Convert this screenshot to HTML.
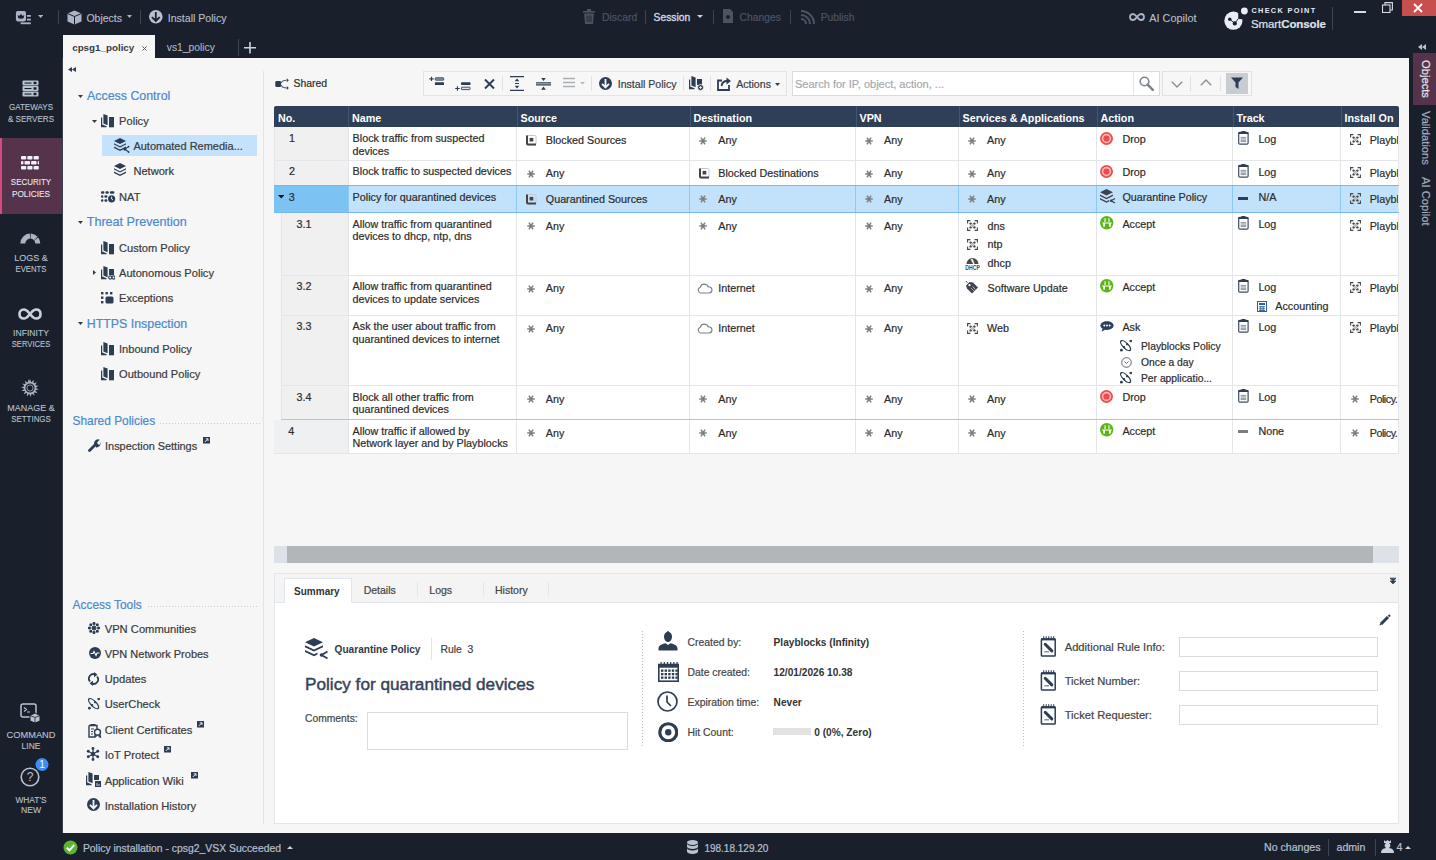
<!DOCTYPE html><html><head><meta charset="utf-8"><style>
*{margin:0;padding:0;box-sizing:border-box}
html,body{width:1436px;height:860px;overflow:hidden;background:#1a1f2c;font-family:"Liberation Sans",sans-serif}
.a{position:absolute}
.t{position:absolute;white-space:nowrap;-webkit-text-stroke:0.2px currentColor}
svg{display:block}
</style></head><body>
<svg class="a" style="left:15px;top:10px;" width="17" height="15" viewBox="0 0 17 15"><rect x="0.9" y="1.1" width="10.1" height="10.3" rx="1.8" fill="#aab4c4"/><path d="M2.6 5 L4.2 5.9 L5.95 4 L7.7 5.9 L9.3 5 L8.6 8.3 Q5.95 9.2 3.3 8.3Z" fill="#1a1f2c"/><rect x="11.9" y="5" width="3.9" height="1.8" fill="#aab4c4"/><rect x="11.9" y="8.7" width="3.9" height="1.8" fill="#aab4c4"/><rect x="5.6" y="12.4" width="10.2" height="1.8" fill="#aab4c4"/></svg>
<svg class="a" style="left:38px;top:15px;" width="5.2" height="3" viewBox="0 0 5.2 3"><path d="M0 0 L5.2 0 L2.6 3Z" fill="#aab4c4"/></svg>
<div class="a" style="left:58px;top:10px;width:1px;height:14px;background:#3d4554"></div>
<svg class="a" style="left:67px;top:10px;" width="15" height="15" viewBox="0 0 15 15"><path d="M7.5 0.5 L14.5 3.5 L14.5 11.5 L7.5 14.5 L0.5 11.5 L0.5 3.5Z" fill="#aab4c4"/><path d="M0.5 3.5 L7.5 6.5 L14.5 3.5 M7.5 6.5 L7.5 14.5" stroke="#1a1f2c" stroke-width="1" fill="none"/></svg>
<div class="t " style="left:86.4px;top:12.8px;font-size:10.5px;line-height:10.5px;color:#b6c0ce;-webkit-text-stroke:0.1px;">Objects</div>
<svg class="a" style="left:126.5px;top:15px;" width="5" height="3" viewBox="0 0 5 3"><path d="M0 0 L5 0 L2.5 3Z" fill="#aab4c4"/></svg>
<div class="a" style="left:140px;top:10px;width:1px;height:14px;background:#3d4554"></div>
<svg class="a" style="left:149px;top:10px;" width="14" height="14" viewBox="0 0 14 14"><circle cx="6.8" cy="6.8" r="6.8" fill="#b6c0ce"/><path d="M6.8 2 L6.8 11 M2.9 7.1 L6.8 11 L10.7 7.1" stroke="#1a1f2c" stroke-width="1.8" fill="none"/></svg>
<div class="t " style="left:167.7px;top:12.7px;font-size:10.6px;line-height:10.6px;color:#b6c0ce;-webkit-text-stroke:0.1px;">Install Policy</div>
<svg class="a" style="left:583px;top:9px;" width="12" height="15" viewBox="0 0 12 15"><rect x="0" y="2" width="12" height="1.6" fill="#4c5462"/><rect x="4" y="0" width="4" height="2" fill="#4c5462"/><path d="M1.2 4.5 L10.8 4.5 L10 15 L2 15Z" fill="#4c5462"/><path d="M4 6.5 L4 13 M6 6.5 L6 13 M8 6.5 L8 13" stroke="#1a1f2c" stroke-width="0.8"/></svg>
<div class="t " style="left:602.0px;top:12.9px;font-size:10.4px;line-height:10.4px;color:#4c5462;">Discard</div>
<div class="a" style="left:645px;top:10px;width:1px;height:14px;background:#3d4554"></div>
<div class="t " style="left:653.6px;top:13.0px;font-size:10.3px;line-height:10.3px;color:#d0d7e2;-webkit-text-stroke:0.35px #d0d7e2;">Session</div>
<svg class="a" style="left:697px;top:15px;" width="6" height="3" viewBox="0 0 6 3"><path d="M0 0 L6 0 L3 3Z" fill="#c9d1dd"/></svg>
<div class="a" style="left:713px;top:10px;width:1px;height:14px;background:#3d4554"></div>
<svg class="a" style="left:722.5px;top:9px;" width="10" height="14" viewBox="0 0 10 14"><path d="M0 0 L7 0 L10 3 L10 14 L0 14Z" fill="#4c5462"/><circle cx="5" cy="8" r="2" fill="#1a1f2c"/></svg>
<div class="t " style="left:739.6px;top:13.0px;font-size:10.3px;line-height:10.3px;color:#4c5462;">Changes</div>
<div class="a" style="left:790px;top:10px;width:1px;height:14px;background:#3d4554"></div>
<svg class="a" style="left:800px;top:9px;" width="16" height="16" viewBox="0 0 16 16"><path d="M1 2 A13 13 0 0 1 14 15 M1 6 A9 9 0 0 1 10 15 M1 10 A5 5 0 0 1 6 15" stroke="#4c5462" stroke-width="2" fill="none"/></svg>
<div class="t " style="left:820.7px;top:13.0px;font-size:10.3px;line-height:10.3px;color:#4c5462;">Publish</div>
<svg class="a" style="left:1129px;top:13px;" width="16" height="8" viewBox="0 0 16 8"><path d="M4 1 C1.5 1 1 3 1 4 C1 5 1.5 7 4 7 C6 7 7 5 8 4 C9 3 10 1 12 1 C14.5 1 15 3 15 4 C15 5 14.5 7 12 7 C10 7 9 5 8 4 C7 3 6 1 4 1Z" stroke="#aab4c4" stroke-width="1.8" fill="none"/></svg>
<div class="t " style="left:1149.3px;top:12.8px;font-size:10.9px;line-height:10.9px;color:#b6c0ce;-webkit-text-stroke:0.1px;">AI Copilot</div>
<svg class="a" style="left:1223px;top:7px;" width="26" height="23" viewBox="0 0 26 23"><circle cx="10.4" cy="13.7" r="9.1" fill="#e8edf5"/><path d="M15.2 0 L15.2 11.3 Q15.2 12 16 12 L21 12.2 L21 0Z" fill="#1a1f2c"/><circle cx="21.4" cy="4" r="3.4" fill="#e8edf5"/><path d="M6.8 12.3 L11.8 16.4 L15.3 11.6" stroke="#1a1f2c" stroke-width="0.9" fill="none"/><circle cx="6.8" cy="12.3" r="1.7" fill="#1a1f2c"/><circle cx="11.8" cy="16.4" r="2.1" fill="#1a1f2c"/></svg>
<div class="t " style="left:1251.4px;top:7.4px;font-size:7.3px;line-height:7.3px;color:#e8ecf0;font-weight:700;-webkit-text-stroke:0;letter-spacing:1.35px;">CHECK POINT</div>
<div class="t " style="left:1251.0px;top:19.3px;font-size:11.5px;line-height:11.5px;color:#dfe4ea;letter-spacing:-0.1px;">Smart<span style="font-weight:700">Console</span></div>
<div class="a" style="left:1332px;top:7px;width:1px;height:23px;background:#3d4554"></div>
<div class="a" style="left:1354px;top:11px;width:12px;height:2px;background:#d8dde4"></div>
<svg class="a" style="left:1382px;top:2px;" width="11" height="11" viewBox="0 0 11 11"><rect x="0.5" y="3" width="7.5" height="7.5" fill="none" stroke="#d8dde4" stroke-width="1.1"/><path d="M3 3 L3 0.6 L10.4 0.6 L10.4 8 L8 8" fill="none" stroke="#d8dde4" stroke-width="1.1"/></svg>
<div class="a" style="left:1402px;top:0px;width:34px;height:16px;background:#c74f4d"></div>
<svg class="a" style="left:1413px;top:3px;" width="10" height="10" viewBox="0 0 10 10"><path d="M1 1 L9 9 M9 1 L1 9" stroke="#fff" stroke-width="1.8"/></svg>
<div class="a" style="left:63px;top:35px;width:92px;height:30px;background:#f6f6f6"></div>
<div class="t " style="left:72.2px;top:43.0px;font-size:9.8px;line-height:9.8px;color:#3a3a3a;font-weight:700;-webkit-text-stroke:0;">cpsg1_policy</div>
<svg class="a" style="left:142px;top:46px;" width="5" height="5" viewBox="0 0 5 5"><path d="M0.5 0.5 L4.5 4.5 M4.5 0.5 L0.5 4.5" stroke="#555" stroke-width="1"/></svg>
<div class="t " style="left:166.8px;top:42.9px;font-size:10.3px;line-height:10.3px;color:#aeb7c3;-webkit-text-stroke:0.1px;">vs1_policy</div>
<div class="a" style="left:238px;top:39px;width:1px;height:17px;background:#3d4554"></div>
<svg class="a" style="left:244px;top:42px;" width="12" height="12" viewBox="0 0 12 12"><path d="M6 0 L6 11.5 M0 5.8 L12 5.8" stroke="#c9d1dd" stroke-width="1.6"/></svg>
<svg class="a" style="left:22px;top:80px;" width="17" height="17" viewBox="0 0 17 17"><rect x="0.5" y="0.5" width="16" height="5" rx="1" fill="#b9c3d0"/><rect x="2.5" y="2.5" width="7" height="1.1" fill="#1a1f2c"/><rect x="11.5" y="1.8" width="3" height="2.4" fill="#1a1f2c"/><rect x="0.5" y="6" width="16" height="5" rx="1" fill="#b9c3d0"/><rect x="2.5" y="8" width="7" height="1.1" fill="#1a1f2c"/><rect x="11.5" y="7.3" width="3" height="2.4" fill="#1a1f2c"/><rect x="0.5" y="11.5" width="16" height="5" rx="1" fill="#b9c3d0"/><rect x="2.5" y="13.5" width="7" height="1.1" fill="#1a1f2c"/><rect x="11.5" y="12.8" width="3" height="2.4" fill="#1a1f2c"/></svg>
<div class="t" style="left:0;width:62px;text-align:center;top:102.4px;font-size:9.8px;line-height:9.8px;color:#b9c3d0;-webkit-text-stroke:0.1px #b9c3d0;transform:scaleX(0.823)">GATEWAYS</div>
<div class="t" style="left:0;width:62px;text-align:center;top:113.6px;font-size:9.8px;line-height:9.8px;color:#b9c3d0;-webkit-text-stroke:0.1px #b9c3d0;transform:scaleX(0.826)">&amp; SERVERS</div>
<div class="a" style="left:0px;top:138px;width:62px;height:76px;background:#55334a"></div>
<div class="a" style="left:0px;top:138px;width:2px;height:76px;background:#d24d7f"></div>
<svg class="a" style="left:21px;top:156px;" width="18" height="14" viewBox="0 0 18 14"><rect x="0" y="0" width="5.2" height="3.6" rx="0.8" fill="#eef1f6"/><rect x="6.3" y="0" width="5.2" height="3.6" rx="0.8" fill="#eef1f6"/><rect x="12.6" y="0" width="5.2" height="3.6" rx="0.8" fill="#eef1f6"/><rect x="0" y="5" width="2.4" height="3.6" rx="0.8" fill="#eef1f6"/><rect x="3.5" y="5" width="5.5" height="3.6" rx="0.8" fill="#eef1f6"/><rect x="10.1" y="5" width="5.5" height="3.6" rx="0.8" fill="#eef1f6"/><rect x="16.7" y="5" width="1.3" height="3.6" rx="0.8" fill="#eef1f6"/><rect x="0" y="10" width="5.2" height="3.6" rx="0.8" fill="#eef1f6"/><rect x="6.3" y="10" width="5.2" height="3.6" rx="0.8" fill="#eef1f6"/><rect x="12.6" y="10" width="5.2" height="3.6" rx="0.8" fill="#eef1f6"/></svg>
<div class="t" style="left:0;width:62px;text-align:center;top:177.3px;font-size:9.8px;line-height:9.8px;color:#e6e9ef;-webkit-text-stroke:0.1px #e6e9ef;transform:scaleX(0.814)">SECURITY</div>
<div class="t" style="left:0;width:62px;text-align:center;top:188.6px;font-size:9.8px;line-height:9.8px;color:#e6e9ef;-webkit-text-stroke:0.1px #e6e9ef;transform:scaleX(0.843)">POLICIES</div>
<svg class="a" style="left:20px;top:233px;" width="21" height="11" viewBox="0 0 21 11"><path d="M2.80 10.60 A7.5 7.5 0 0 1 9.97 3.11 M10.63 3.11 A7.5 7.5 0 0 1 15.79 5.49 M16.21 5.98 A7.5 7.5 0 0 1 17.80 10.60" stroke="#aab4c3" stroke-width="5" fill="none"/></svg>
<div class="t" style="left:0;width:62px;text-align:center;top:252.7px;font-size:9.8px;line-height:9.8px;color:#b9c3d0;-webkit-text-stroke:0.1px #b9c3d0;transform:scaleX(0.913)">LOGS &amp;</div>
<div class="t" style="left:0;width:62px;text-align:center;top:263.5px;font-size:9.8px;line-height:9.8px;color:#b9c3d0;-webkit-text-stroke:0.1px #b9c3d0;transform:scaleX(0.791)">EVENTS</div>
<svg class="a" style="left:18px;top:308px;" width="24" height="12" viewBox="0 0 24 12"><path d="M6 1.5 C2.5 1.5 1.5 4 1.5 6 C1.5 8 2.5 10.5 6 10.5 C9 10.5 10.5 7.5 12 6 C13.5 4.5 15 1.5 18 1.5 C21.5 1.5 22.5 4 22.5 6 C22.5 8 21.5 10.5 18 10.5 C15 10.5 13.5 7.5 12 6 C10.5 4.5 9 1.5 6 1.5Z" stroke="#c9d1dd" stroke-width="2.6" fill="none"/></svg>
<div class="t" style="left:0;width:62px;text-align:center;top:327.5px;font-size:9.8px;line-height:9.8px;color:#b9c3d0;-webkit-text-stroke:0.1px #b9c3d0;transform:scaleX(0.877)">INFINITY</div>
<div class="t" style="left:0;width:62px;text-align:center;top:338.5px;font-size:9.8px;line-height:9.8px;color:#b9c3d0;-webkit-text-stroke:0.1px #b9c3d0;transform:scaleX(0.782)">SERVICES</div>
<svg class="a" style="left:21px;top:379px;" width="18" height="18" viewBox="0 0 18 18"><path d="M7.89 3.31 L9.00 0.00 L10.11 3.31Z" fill="#aab4c3"/><path d="M10.40 3.37 L12.80 0.84 L12.41 4.31Z" fill="#aab4c3"/><path d="M12.65 4.49 L15.89 3.21 L14.07 6.19Z" fill="#aab4c3"/><path d="M14.21 6.46 L17.69 6.67 L14.79 8.60Z" fill="#aab4c3"/><path d="M14.80 8.90 L17.86 10.56 L14.41 11.08Z" fill="#aab4c3"/><path d="M14.30 11.36 L16.37 14.16 L13.03 13.17Z" fill="#aab4c3"/><path d="M12.81 13.38 L13.50 16.79 L10.89 14.48Z" fill="#aab4c3"/><path d="M10.60 14.58 L9.78 17.97 L8.39 14.77Z" fill="#aab4c3"/><path d="M8.09 14.73 L5.92 17.46 L6.01 13.97Z" fill="#aab4c3"/><path d="M5.76 13.81 L2.64 15.36 L4.19 12.24Z" fill="#aab4c3"/><path d="M4.03 11.99 L0.54 12.08 L3.27 9.91Z" fill="#aab4c3"/><path d="M3.23 9.61 L0.03 8.22 L3.42 7.40Z" fill="#aab4c3"/><path d="M3.52 7.11 L1.21 4.50 L4.62 5.19Z" fill="#aab4c3"/><path d="M4.83 4.97 L3.84 1.63 L6.64 3.70Z" fill="#aab4c3"/><path d="M6.92 3.59 L7.44 0.14 L9.10 3.20Z" fill="#aab4c3"/><circle cx="9" cy="9" r="5.4" fill="none" stroke="#aab4c3" stroke-width="1.6"/><circle cx="9" cy="9" r="3.1" fill="none" stroke="#8d97a6" stroke-width="1"/></svg>
<div class="t" style="left:0;width:62px;text-align:center;top:402.6px;font-size:9.8px;line-height:9.8px;color:#b9c3d0;-webkit-text-stroke:0.1px #b9c3d0;transform:scaleX(0.915)">MANAGE &amp;</div>
<div class="t" style="left:0;width:62px;text-align:center;top:413.6px;font-size:9.8px;line-height:9.8px;color:#b9c3d0;-webkit-text-stroke:0.1px #b9c3d0;transform:scaleX(0.810)">SETTINGS</div>
<svg class="a" style="left:20px;top:703px;" width="21" height="20" viewBox="0 0 21 20"><rect x="1" y="1" width="15" height="13" rx="2" fill="none" stroke="#b9c3d0" stroke-width="1.5"/><path d="M4 4.5 L6.5 6.5 L4 8.5 M7 9 L10 9" stroke="#b9c3d0" stroke-width="1.1" fill="none"/><path d="M15 10 L20 12.5 L20 18 L15 20 L10 18 L10 12.5Z" fill="#b9c3d0" stroke="#1a1f2c" stroke-width="1"/><path d="M10 12.5 L15 14.5 L20 12.5 M15 14.5 L15 20" stroke="#1a1f2c" stroke-width="0.8" fill="none"/></svg>
<div class="t" style="left:0;width:62px;text-align:center;top:730.2px;font-size:9.8px;line-height:9.8px;color:#b9c3d0;-webkit-text-stroke:0.1px #b9c3d0;transform:scaleX(0.946)">COMMAND</div>
<div class="t" style="left:0;width:62px;text-align:center;top:740.7px;font-size:9.8px;line-height:9.8px;color:#b9c3d0;-webkit-text-stroke:0.1px #b9c3d0;transform:scaleX(0.863)">LINE</div>
<svg class="a" style="left:20px;top:767px;" width="20" height="20" viewBox="0 0 20 20"><circle cx="10" cy="10" r="8.8" fill="none" stroke="#b9c3d0" stroke-width="1.6"/><text x="10" y="14.2" text-anchor="middle" font-family="Liberation Sans" font-size="12" fill="#b9c3d0">?</text></svg>
<svg class="a" style="left:35px;top:758px;" width="14" height="13" viewBox="0 0 14 13"><circle cx="7" cy="6.5" r="6.5" fill="#3c8ff1"/><text x="7" y="10.3" text-anchor="middle" font-family="Liberation Sans" font-size="10" fill="#fff">1</text></svg>
<div class="t" style="left:0;width:62px;text-align:center;top:794.9px;font-size:9.8px;line-height:9.8px;color:#b9c3d0;-webkit-text-stroke:0.1px #b9c3d0;transform:scaleX(0.852)">WHAT'S</div>
<div class="t" style="left:0;width:62px;text-align:center;top:805.1px;font-size:9.8px;line-height:9.8px;color:#b9c3d0;-webkit-text-stroke:0.1px #b9c3d0;transform:scaleX(0.879)">NEW</div>
<div class="a" style="left:62px;top:58px;width:1347px;height:775px;background:#f6f6f6"></div>
<div class="a" style="left:62px;top:58px;width:1px;height:775px;background:#3a3f48"></div>
<div class="a" style="left:263px;top:71px;width:1px;height:753px;background:#e1e4e8"></div>
<svg class="a" style="left:1418px;top:44px;" width="8" height="6" viewBox="0 0 8 6"><path d="M4 0 L0 3 L4 6Z M8 0 L4 3 L8 6Z" fill="#b9c3d0"/></svg>
<div class="a" style="left:1413px;top:53px;width:23px;height:52px;background:#55334a"></div>
<div class="t" style="left:1431px;top:60px;font-size:11.2px;line-height:11.2px;color:#e6e9ef;transform-origin:0 0;transform:rotate(90deg)">Objects</div>
<div class="t" style="left:1431px;top:111px;font-size:11.2px;line-height:11.2px;color:#a4aebc;transform-origin:0 0;transform:rotate(90deg)">Validations</div>
<div class="t" style="left:1431px;top:177px;font-size:11.2px;line-height:11.2px;color:#a4aebc;transform-origin:0 0;transform:rotate(90deg)">AI Copilot</div>
<svg class="a" style="left:63px;top:840px;" width="15" height="15" viewBox="0 0 15 15"><circle cx="7.5" cy="7.5" r="7" fill="#5cb531"/><path d="M3.8 7.8 L6.4 10.3 L11.2 5" stroke="#fff" stroke-width="2" fill="none"/></svg>
<div class="t " style="left:82.9px;top:843.7px;font-size:10.4px;line-height:10.4px;color:#b6c0ce;">Policy installation - cpsg2_VSX Succeeded</div>
<svg class="a" style="left:286.5px;top:846px;" width="6" height="3" viewBox="0 0 6 3"><path d="M0 3 L6 3 L3 0Z" fill="#c9d1dd"/></svg>
<svg class="a" style="left:687px;top:840px;" width="11" height="15" viewBox="0 0 11 15"><ellipse cx="5.5" cy="2.5" rx="5.5" ry="2.5" fill="#b9c3d0"/><path d="M0 3.5 L0 6.5 A5.5 2.5 0 0 0 11 6.5 L11 3.5 A5.5 2.5 0 0 1 0 3.5Z" fill="#b9c3d0"/><path d="M0 8 L0 11.5 A5.5 2.5 0 0 0 11 11.5 L11 8 A5.5 2.5 0 0 1 0 8Z" fill="#b9c3d0"/></svg>
<div class="t " style="left:704.4px;top:844.2px;font-size:10px;line-height:10px;color:#b6c0ce;">198.18.129.20</div>
<div class="t " style="left:1264.0px;top:842.4px;font-size:10.6px;line-height:10.6px;color:#b6c0ce;">No changes</div>
<div class="a" style="left:1328px;top:839px;width:1px;height:17px;background:#3d4554"></div>
<div class="t " style="left:1336.5px;top:842.4px;font-size:10.6px;line-height:10.6px;color:#b6c0ce;">admin</div>
<div class="a" style="left:1375px;top:839px;width:1px;height:17px;background:#3d4554"></div>
<svg class="a" style="left:1381px;top:840px;" width="13" height="13" viewBox="0 0 13 13"><path d="M3 0 L4.5 1.5 L6.5 0 L8.5 1.5 L10 0 L10 3 L3 3Z" fill="#c9d1dd"/><circle cx="6.5" cy="5.5" r="2.8" fill="#c9d1dd"/><path d="M0 13 C0 9 3 8 6.5 8 C10 8 13 9 13 13Z" fill="#c9d1dd"/></svg>
<div class="t " style="left:1396.4px;top:842.4px;font-size:10.6px;line-height:10.6px;color:#b6c0ce;">4</div>
<svg class="a" style="left:1405px;top:846px;" width="6" height="3" viewBox="0 0 6 3"><path d="M0 3 L6 3 L3 0Z" fill="#c9d1dd"/></svg>
<svg class="a" style="left:68px;top:67px;" width="8" height="5" viewBox="0 0 8 5"><path d="M4 0 L0 2.5 L4 5Z M8 0 L4 2.5 L8 5Z" fill="#2d3d54"/></svg>
<svg class="a" style="left:77.5px;top:95px;" width="5" height="3" viewBox="0 0 5 3"><path d="M0 0 L5 0 L2.5 3Z" fill="#3a3a3a"/></svg>
<div class="t " style="left:87.0px;top:89.6px;font-size:12.4px;line-height:12.4px;color:#4b89d0;">Access Control</div>
<svg class="a" style="left:91.5px;top:120px;" width="5" height="3" viewBox="0 0 5 3"><path d="M0 0 L5 0 L2.5 3Z" fill="#3a3a3a"/></svg>
<svg class="a" style="left:101px;top:114px;" width="13" height="14" viewBox="0 0 13 14"><path d="M8 3 L13 3 L13 13.3 L8 13.3Z" fill="#2d3d54"/><path d="M2.4 0 L6.6 1.6 L6.6 11.3 L2.4 9.6Z" fill="#2d3d54"/><path d="M0 3.5 L1.2 3.5 L1.2 10.4 L5.6 12.2 L5.6 13.3 L0 13.3Z" fill="#2d3d54"/></svg>
<div class="t " style="left:119.1px;top:116.3px;font-size:11.1px;line-height:11.1px;color:#3a3a3a;">Policy</div>
<div class="a" style="left:102px;top:135px;width:155px;height:21px;background:#c4e2fb"></div>
<svg class="a" style="left:114px;top:138px;" width="16" height="15" viewBox="0 0 16 15"><path d="M6 0 L12 3 L6 6 L0 3Z" fill="#2d3d54"/><path d="M0 5.2 L6 8.2 L12 5.2 L12 6.6 L6 9.6 L0 6.6Z" fill="#2d3d54"/><path d="M0 8.6 L6 11.6 L12 8.6 L12 10 L6 13 L0 10Z" fill="#2d3d54"/><path d="M14.6 8.6 L10.9 11.1 L14.6 14" stroke="#2d3d54" stroke-width="1.1" fill="none"/><circle cx="10.9" cy="11.1" r="1.6" fill="#2d3d54"/><circle cx="14.6" cy="8.6" r="0.9" fill="#2d3d54"/><circle cx="14.6" cy="14" r="0.9" fill="#2d3d54"/></svg>
<div class="t " style="left:133.4px;top:140.5px;font-size:11px;line-height:11px;color:#3a3a3a;">Automated Remedia...</div>
<svg class="a" style="left:114px;top:163px;" width="12" height="13" viewBox="0 0 12 13"><path d="M6 0 L12 3 L6 6 L0 3Z" fill="#2d3d54"/><path d="M0 5.2 L6 8.2 L12 5.2 L12 6.6 L6 9.6 L0 6.6Z" fill="#2d3d54"/><path d="M0 8.6 L6 11.6 L12 8.6 L12 10 L6 13 L0 10Z" fill="#2d3d54"/></svg>
<div class="t " style="left:133.4px;top:165.6px;font-size:11.1px;line-height:11.1px;color:#3a3a3a;">Network</div>
<svg class="a" style="left:101px;top:190.5px;" width="15" height="12" viewBox="0 0 15 12"><rect x="0" y="0.3" width="3.4" height="2.4" rx="1" fill="#2d3d54"/><rect x="4.4" y="0.3" width="3.4" height="2.4" rx="1" fill="#2d3d54"/><rect x="8.8" y="0.3" width="4.6" height="2.4" rx="1" fill="#2d3d54"/><rect x="0" y="4.3" width="2.4" height="2.4" rx="1" fill="#2d3d54"/><rect x="3.4" y="4.3" width="3" height="2.4" rx="1" fill="#2d3d54"/><rect x="0" y="8.3" width="2.4" height="2.4" rx="1" fill="#2d3d54"/><rect x="3.4" y="8.3" width="3" height="2.4" rx="1" fill="#2d3d54"/><circle cx="10.6" cy="7.8" r="3.6" fill="#2d3d54"/><path d="M10.6 5.6 L10.6 8 L12 9" stroke="#f6f6f6" stroke-width="0.9" fill="none"/></svg>
<div class="t " style="left:119.1px;top:191.6px;font-size:11.1px;line-height:11.1px;color:#3a3a3a;">NAT</div>
<svg class="a" style="left:77.5px;top:221px;" width="5" height="3" viewBox="0 0 5 3"><path d="M0 0 L5 0 L2.5 3Z" fill="#3a3a3a"/></svg>
<div class="t " style="left:86.7px;top:215.8px;font-size:12.6px;line-height:12.6px;color:#4b89d0;">Threat Prevention</div>
<svg class="a" style="left:101px;top:241px;" width="13" height="14" viewBox="0 0 13 14"><path d="M8 3 L13 3 L13 13.3 L8 13.3Z" fill="#2d3d54"/><path d="M2.4 0 L6.6 1.6 L6.6 11.3 L2.4 9.6Z" fill="#2d3d54"/><path d="M0 3.5 L1.2 3.5 L1.2 10.4 L5.6 12.2 L5.6 13.3 L0 13.3Z" fill="#2d3d54"/></svg>
<div class="t " style="left:119.0px;top:242.9px;font-size:11.1px;line-height:11.1px;color:#3a3a3a;">Custom Policy</div>
<svg class="a" style="left:93px;top:270px;" width="3" height="5" viewBox="0 0 3 5"><path d="M0 0 L3 2.5 L0 5Z" fill="#3a3a3a"/></svg>
<svg class="a" style="left:101px;top:266px;" width="14" height="14" viewBox="0 0 14 14"><path d="M8 3 L13 3 L13 9 L8 9Z" fill="#2d3d54"/><path d="M2.4 0 L6.6 1.6 L6.6 11.3 L2.4 9.6Z" fill="#2d3d54"/><path d="M0 3.5 L1.2 3.5 L1.2 10.4 L5.6 12.2 L5.6 13.3 L0 13.3Z" fill="#2d3d54"/><circle cx="9.3" cy="11.5" r="1.6" fill="none" stroke="#2d3d54" stroke-width="1.1"/><circle cx="12.5" cy="11.5" r="1.6" fill="none" stroke="#2d3d54" stroke-width="1.1"/></svg>
<div class="t " style="left:119.0px;top:268.3px;font-size:11.1px;line-height:11.1px;color:#3a3a3a;">Autonomous Policy</div>
<svg class="a" style="left:101px;top:292px;" width="13" height="12" viewBox="0 0 13 12"><rect x="0" y="0" width="2.4" height="2.4" fill="#2d3d54"/><rect x="4.5" y="0" width="2.4" height="2.4" fill="#2d3d54"/><rect x="9" y="0" width="2.4" height="2.4" fill="#2d3d54"/><rect x="0" y="4.5" width="2.4" height="2.4" fill="#2d3d54"/><rect x="0" y="9" width="2.4" height="2.4" fill="#2d3d54"/><rect x="4.5" y="4.5" width="8" height="7" rx="1.5" fill="#2d3d54"/></svg>
<div class="t " style="left:119.0px;top:293.4px;font-size:11.1px;line-height:11.1px;color:#3a3a3a;">Exceptions</div>
<svg class="a" style="left:77.5px;top:322px;" width="5" height="3" viewBox="0 0 5 3"><path d="M0 0 L5 0 L2.5 3Z" fill="#3a3a3a"/></svg>
<div class="t " style="left:86.7px;top:317.5px;font-size:12.4px;line-height:12.4px;color:#4b89d0;">HTTPS Inspection</div>
<svg class="a" style="left:101px;top:342px;" width="13" height="14" viewBox="0 0 13 14"><path d="M8 3 L13 3 L13 13.3 L8 13.3Z" fill="#2d3d54"/><path d="M2.4 0 L6.6 1.6 L6.6 11.3 L2.4 9.6Z" fill="#2d3d54"/><path d="M0 3.5 L1.2 3.5 L1.2 10.4 L5.6 12.2 L5.6 13.3 L0 13.3Z" fill="#2d3d54"/></svg>
<div class="t " style="left:119.0px;top:344.0px;font-size:11.1px;line-height:11.1px;color:#3a3a3a;">Inbound Policy</div>
<svg class="a" style="left:101px;top:367px;" width="13" height="14" viewBox="0 0 13 14"><path d="M8 3 L13 3 L13 13.3 L8 13.3Z" fill="#2d3d54"/><path d="M2.4 0 L6.6 1.6 L6.6 11.3 L2.4 9.6Z" fill="#2d3d54"/><path d="M0 3.5 L1.2 3.5 L1.2 10.4 L5.6 12.2 L5.6 13.3 L0 13.3Z" fill="#2d3d54"/></svg>
<div class="t " style="left:119.0px;top:369.4px;font-size:11.1px;line-height:11.1px;color:#3a3a3a;">Outbound Policy</div>
<div class="t " style="left:72.5px;top:416.2px;font-size:11.9px;line-height:11.9px;color:#4b89d0;">Shared Policies</div>
<div class="a" style="left:160px;top:423px;width:100px;height:1px;background-image:linear-gradient(90deg,#c8ccd2 50%,transparent 50%);background-size:3px 1px"></div>
<svg class="a" style="left:88px;top:439px;" width="13" height="13" viewBox="0 0 13 13"><path d="M1.5 11.5 L7 6" stroke="#2d3d54" stroke-width="2.8" stroke-linecap="round"/><path d="M6 4.5 A4 4 0 0 1 11.8 0.8 L9.2 3.3 L9.8 5.2 L11.7 5.8 L12.3 3.3 A4 4 0 0 1 8 8.5Z" fill="#2d3d54"/></svg>
<div class="t " style="left:105.1px;top:440.5px;font-size:10.9px;line-height:10.9px;color:#3a3a3a;">Inspection Settings</div>
<svg class="a" style="left:203px;top:437px;" width="7" height="7" viewBox="0 0 7 7"><rect x="0" y="0" width="7" height="6.5" fill="#2d3d54"/><path d="M1.8 5 L5 1.8 M2.8 1.8 L5 1.8 L5 4" stroke="#f6f6f6" stroke-width="0.9" fill="none"/></svg>
<div class="t " style="left:72.6px;top:599.7px;font-size:11.9px;line-height:11.9px;color:#4b89d0;">Access Tools</div>
<div class="a" style="left:148px;top:606px;width:110px;height:1px;background-image:linear-gradient(90deg,#c8ccd2 50%,transparent 50%);background-size:3px 1px"></div>
<svg class="a" style="left:88px;top:622px;" width="12" height="12" viewBox="0 0 12 12"><circle cx="10.60" cy="6.00" r="1.5" fill="#2d3d54"/><circle cx="9.25" cy="9.25" r="1.5" fill="#2d3d54"/><circle cx="6.00" cy="10.60" r="1.5" fill="#2d3d54"/><circle cx="2.75" cy="9.25" r="1.5" fill="#2d3d54"/><circle cx="1.40" cy="6.00" r="1.5" fill="#2d3d54"/><circle cx="2.75" cy="2.75" r="1.5" fill="#2d3d54"/><circle cx="6.00" cy="1.40" r="1.5" fill="#2d3d54"/><circle cx="9.25" cy="2.75" r="1.5" fill="#2d3d54"/><circle cx="6" cy="6" r="2" fill="#2d3d54"/><path d="M6 1 L6 11 M1 6 L11 6 M2.5 2.5 L9.5 9.5 M9.5 2.5 L2.5 9.5" stroke="#2d3d54" stroke-width="0.8"/></svg>
<div class="t " style="left:104.7px;top:624.0px;font-size:11.2px;line-height:11.2px;color:#3a3a3a;">VPN Communities</div>
<svg class="a" style="left:88.5px;top:647px;" width="12" height="12" viewBox="0 0 12 12"><circle cx="6" cy="6" r="6" fill="#2d3d54"/><path d="M1.5 6.5 L4 6.5 L5 4.5 L7 8.5 L8 6 L10.5 6" stroke="#fff" stroke-width="1.1" fill="none"/></svg>
<div class="t " style="left:104.7px;top:649.3px;font-size:11.0px;line-height:11.0px;color:#3a3a3a;">VPN Network Probes</div>
<svg class="a" style="left:88px;top:671.5px;" width="11" height="14" viewBox="0 0 11 14"><path d="M2 9.5 A4.5 4.5 0 0 1 7.5 2.6" stroke="#2d3d54" stroke-width="1.8" fill="none"/><path d="M6 0 L9.5 2.8 L6 5.3Z" fill="#2d3d54"/><path d="M9 4.5 A4.5 4.5 0 0 1 3.5 11.4" stroke="#2d3d54" stroke-width="1.8" fill="none"/><path d="M5 8.7 L1.5 11.2 L5 14Z" fill="#2d3d54"/></svg>
<div class="t " style="left:104.7px;top:674.3px;font-size:11.2px;line-height:11.2px;color:#3a3a3a;">Updates</div>
<svg class="a" style="left:88px;top:698px;" width="12" height="12" viewBox="0 0 12 12"><ellipse cx="5.6" cy="5.6" rx="6.6" ry="2.6" transform="rotate(45 5.6 5.6)" fill="none" stroke="#2d3d54" stroke-width="1.3"/><circle cx="7" cy="4.3" r="1.1" fill="#2d3d54"/><circle cx="4.1" cy="7.2" r="1.1" fill="#2d3d54"/><circle cx="10.7" cy="0.9" r="1.3" fill="#2d3d54"/><circle cx="1.4" cy="10.2" r="1.4" fill="#2d3d54"/></svg>
<div class="t " style="left:104.7px;top:699.3px;font-size:11.2px;line-height:11.2px;color:#3a3a3a;">UserCheck</div>
<svg class="a" style="left:88px;top:723.5px;" width="14" height="14" viewBox="0 0 14 14"><path d="M1 1.5 L9 1.5 L9 5 M1 1.5 L1 13 L6 13" stroke="#2d3d54" stroke-width="1.4" fill="none"/><rect x="2.5" y="0" width="5" height="2" fill="#2d3d54"/><path d="M3 5 L6 5 M3 7.5 L5 7.5 M3 10 L5 10" stroke="#2d3d54" stroke-width="1"/><circle cx="9.5" cy="8.3" r="3" fill="none" stroke="#2d3d54" stroke-width="1.4"/><path d="M7 10.5 L6.5 13.5 L8.5 12.5 M12 10.5 L12.8 13.5 L10.6 12.5" fill="#2d3d54" stroke="#2d3d54" stroke-width="1"/></svg>
<div class="t " style="left:104.7px;top:725.0px;font-size:11.2px;line-height:11.2px;color:#3a3a3a;">Client Certificates</div>
<svg class="a" style="left:196.5px;top:721px;" width="7" height="7" viewBox="0 0 7 7"><rect x="0" y="0" width="7" height="6.5" fill="#2d3d54"/><path d="M1.8 5 L5 1.8 M2.8 1.8 L5 1.8 L5 4" stroke="#f6f6f6" stroke-width="0.9" fill="none"/></svg>
<svg class="a" style="left:86px;top:747px;" width="14" height="15" viewBox="0 0 14 15"><path d="M7 7 L7.00 1.50" stroke="#2d3d54" stroke-width="1.2"/><circle cx="7.00" cy="1.50" r="1.4" fill="#2d3d54"/><path d="M7 7 L11.76 4.25" stroke="#2d3d54" stroke-width="1.2"/><circle cx="11.76" cy="4.25" r="1.4" fill="#2d3d54"/><path d="M7 7 L11.76 9.75" stroke="#2d3d54" stroke-width="1.2"/><circle cx="11.76" cy="9.75" r="1.4" fill="#2d3d54"/><path d="M7 7 L7.00 12.50" stroke="#2d3d54" stroke-width="1.2"/><circle cx="7.00" cy="12.50" r="1.4" fill="#2d3d54"/><path d="M7 7 L2.24 9.75" stroke="#2d3d54" stroke-width="1.2"/><circle cx="2.24" cy="9.75" r="1.4" fill="#2d3d54"/><path d="M7 7 L2.24 4.25" stroke="#2d3d54" stroke-width="1.2"/><circle cx="2.24" cy="4.25" r="1.4" fill="#2d3d54"/><circle cx="7" cy="7" r="2.2" fill="#2d3d54"/></svg>
<div class="t " style="left:104.7px;top:750.2px;font-size:11.2px;line-height:11.2px;color:#3a3a3a;">IoT Protect</div>
<svg class="a" style="left:164.4px;top:746px;" width="7" height="7" viewBox="0 0 7 7"><rect x="0" y="0" width="7" height="6.5" fill="#2d3d54"/><path d="M1.8 5 L5 1.8 M2.8 1.8 L5 1.8 L5 4" stroke="#f6f6f6" stroke-width="0.9" fill="none"/></svg>
<svg class="a" style="left:86px;top:772px;" width="15" height="15" viewBox="0 0 15 15"><path d="M8 3 L13 3 L13 8 L8 8Z" fill="#2d3d54"/><path d="M2.4 0 L6.6 1.6 L6.6 11.3 L2.4 9.6Z" fill="#2d3d54"/><path d="M0 3.5 L1.2 3.5 L1.2 10.4 L5.6 12.2 L5.6 13.3 L0 13.3Z" fill="#2d3d54"/><rect x="9" y="9" width="6" height="6" fill="#2d3d54"/><path d="M11 11 L11 14 M13 12 L13 14" stroke="#f6f6f6" stroke-width="0.8"/></svg>
<div class="t " style="left:104.7px;top:775.8px;font-size:11.2px;line-height:11.2px;color:#3a3a3a;">Application Wiki</div>
<svg class="a" style="left:191px;top:771.5px;" width="7" height="7" viewBox="0 0 7 7"><rect x="0" y="0" width="7" height="6.5" fill="#2d3d54"/><path d="M1.8 5 L5 1.8 M2.8 1.8 L5 1.8 L5 4" stroke="#f6f6f6" stroke-width="0.9" fill="none"/></svg>
<svg class="a" style="left:87.3px;top:798.3px;" width="13" height="13" viewBox="0 0 13 13"><circle cx="6.5" cy="6.5" r="6.5" fill="#2d3d54"/><path d="M6.5 2 L6.5 10.3 M3 6.9 L6.5 10.4 L10 6.9" stroke="#f6f6f6" stroke-width="1.8" fill="none"/></svg>
<div class="t " style="left:104.7px;top:800.9px;font-size:11.2px;line-height:11.2px;color:#3a3a3a;">Installation History</div>
<svg class="a" style="left:275px;top:78px;" width="15" height="13" viewBox="0 0 15 13"><rect x="0.3" y="2.9" width="5.7" height="6.1" rx="1.3" fill="#2d3d54"/><path d="M6 5 C7 3 8.5 2.2 11.5 2.2 M6 7 C7 9 8.5 9.9 11.5 9.9" stroke="#4f5d70" stroke-width="1.1" fill="none"/><path d="M11.8 0.2 L13.8 2.2 L11.8 4.2Z M11.8 7.9 L13.8 9.9 L11.8 11.9Z" fill="#2d3d54"/></svg>
<div class="t " style="left:293.5px;top:79.0px;font-size:10.4px;line-height:10.4px;color:#2e2e2e;">Shared</div>
<div class="a" style="left:423px;top:71px;width:364px;height:25px;background:#f7f7f7;border:1px solid #e2e4e7"></div>
<svg class="a" style="left:429px;top:76px;" width="16" height="10" viewBox="0 0 16 10"><path d="M0.3 2.9 L4.7 2.9 M2.5 0.7 L2.5 5.1" stroke="#2d3d54" stroke-width="1.1"/><rect x="6.3" y="1.7" width="8.4" height="2.5" rx="0.6" fill="#8c97a6" stroke="#2d3d54" stroke-width="0.8"/><rect x="5.9" y="6.3" width="9.1" height="2.8" rx="0.6" fill="#2d3d54"/></svg>
<svg class="a" style="left:455px;top:82px;" width="16" height="9" viewBox="0 0 16 9"><rect x="6" y="0.3" width="9.5" height="2.6" rx="0.6" fill="#2d3d54"/><rect x="6.4" y="5.2" width="8.7" height="2.4" rx="0.6" fill="#dfe3e8" stroke="#2d3d54" stroke-width="0.9"/><path d="M0.2 6.5 L4.7 6.5 M2.45 4.2 L2.45 8.7" stroke="#2d3d54" stroke-width="1.1"/></svg>
<svg class="a" style="left:484px;top:78.5px;" width="11" height="10" viewBox="0 0 11 10"><path d="M1 0.5 L10 9.5 M10 0.5 L1 9.5" stroke="#2d3d54" stroke-width="2"/></svg>
<div class="a" style="left:502px;top:76px;width:1px;height:15px;background:#dfe2e6"></div>
<svg class="a" style="left:510px;top:76px;" width="14" height="15" viewBox="0 0 14 15"><path d="M0 0.7 L14 0.7 M0 14.3 L14 14.3" stroke="#2d3d54" stroke-width="1.3"/><path d="M7 2.5 L9.3 5.2 L4.7 5.2Z M7 12.5 L9.3 9.8 L4.7 9.8Z" fill="#2d3d54"/><path d="M5 7.5 L9 7.5" stroke="#2d3d54" stroke-width="1"/></svg>
<svg class="a" style="left:536px;top:76px;" width="15" height="15" viewBox="0 0 15 15"><path d="M0 6.8 L15 6.8 M0 8.8 L15 8.8" stroke="#2d3d54" stroke-width="1.2"/><path d="M7.5 5 L9.8 2 L5.2 2Z M7.5 10.5 L9.8 13.8 L5.2 13.8Z" fill="#2d3d54"/></svg>
<svg class="a" style="left:563px;top:77px;" width="22" height="12" viewBox="0 0 22 12"><path d="M0 1.5 L12 1.5 M0 5.5 L12 5.5 M0 9.5 L12 9.5" stroke="#a9aeb5" stroke-width="1.4"/><path d="M17 5 L22 5 L19.5 7.5Z" fill="#b5b9bf"/></svg>
<div class="a" style="left:591px;top:76px;width:1px;height:15px;background:#dfe2e6"></div>
<svg class="a" style="left:599px;top:77px;" width="13" height="13" viewBox="0 0 13 13"><circle cx="6.5" cy="6.5" r="6.5" fill="#2d3d54"/><path d="M6.5 2 L6.5 10.3 M3 6.9 L6.5 10.4 L10 6.9" stroke="#f7f7f7" stroke-width="1.8" fill="none"/></svg>
<div class="t " style="left:617.7px;top:78.8px;font-size:10.6px;line-height:10.6px;color:#3a3f47;">Install Policy</div>
<div class="a" style="left:683px;top:76px;width:1px;height:15px;background:#dfe2e6"></div>
<svg class="a" style="left:689px;top:76px;" width="15" height="15" viewBox="0 0 15 15"><path d="M8 3 L13 3 L13 9 L8 9Z" fill="#2d3d54"/><path d="M2.4 0 L6.6 1.6 L6.6 11.3 L2.4 9.6Z" fill="#2d3d54"/><path d="M0 3.5 L1.2 3.5 L1.2 10.4 L5.6 12.2 L5.6 13.3 L0 13.3Z" fill="#2d3d54"/><circle cx="11.5" cy="11.5" r="3" fill="#2d3d54" stroke="#f7f7f7" stroke-width="0.8"/><path d="M10 11.5 L13 11.5 M11.5 10 L11.5 13" stroke="#f7f7f7" stroke-width="0.8"/></svg>
<div class="a" style="left:710px;top:76px;width:1px;height:15px;background:#dfe2e6"></div>
<svg class="a" style="left:716.5px;top:76.5px;" width="14" height="14" viewBox="0 0 14 14"><path d="M5 3.5 L1 3.5 L1 13 L12 13 L12 8" stroke="#2d3d54" stroke-width="1.8" fill="none"/><path d="M4.5 9 C5 5.5 7.5 4 10 4" stroke="#2d3d54" stroke-width="1.8" fill="none"/><path d="M9.5 0.5 L14 4 L9.5 7.5Z" fill="#2d3d54"/></svg>
<div class="t " style="left:736.2px;top:78.8px;font-size:10.6px;line-height:10.6px;color:#3a3f47;">Actions</div>
<svg class="a" style="left:775px;top:83px;" width="5" height="3" viewBox="0 0 5 3"><path d="M0 0 L5 0 L2.5 3Z" fill="#3a3f47"/></svg>
<div class="a" style="left:792px;top:71px;width:368px;height:25px;background:#fff;border:1px solid #d9dcdf"></div>
<div class="a" style="left:1133px;top:72px;width:1px;height:23px;background:#e3e5e8"></div>
<div class="t " style="left:795.0px;top:78.5px;font-size:11px;line-height:11px;color:#a5a9ae;">Search for IP, object, action, ...</div>
<svg class="a" style="left:1139px;top:76px;" width="15" height="15" viewBox="0 0 15 15"><circle cx="5.5" cy="5.5" r="4.3" fill="none" stroke="#7d838b" stroke-width="1.6"/><path d="M8.6 8.6 L13.8 13.8" stroke="#7d838b" stroke-width="2.4" stroke-linecap="round"/></svg>
<div class="a" style="left:1162px;top:71px;width:90px;height:25px;background:#f7f7f7;border:1px solid #e0e2e5"></div>
<svg class="a" style="left:1171px;top:81px;" width="12" height="7" viewBox="0 0 12 7"><path d="M0.8 0.8 L6 6 L11.2 0.8" stroke="#8a9098" stroke-width="1.4" fill="none"/></svg>
<div class="a" style="left:1190px;top:76px;width:1px;height:15px;background:#dfe2e6"></div>
<svg class="a" style="left:1200px;top:79px;" width="12" height="7" viewBox="0 0 12 7"><path d="M0.8 6.2 L6 1 L11.2 6.2" stroke="#8a9098" stroke-width="1.4" fill="none"/></svg>
<div class="a" style="left:1220px;top:76px;width:1px;height:15px;background:#dfe2e6"></div>
<div class="a" style="left:1226px;top:73px;width:22px;height:21px;background:#c9cdd2"></div>
<svg class="a" style="left:1231px;top:77px;" width="12" height="12" viewBox="0 0 12 12"><path d="M0 0.5 L12 0.5 L7.5 5.5 L7.5 12 L4.5 10 L4.5 5.5Z" fill="#2d3d54"/></svg>
<div class="a" style="left:274px;top:106px;width:1125px;height:21px;background:#2e3f57;border-radius:2px 2px 0 0"></div>
<div class="a" style="left:348px;top:106px;width:1px;height:21px;background:#46556c"></div>
<div class="a" style="left:516.5px;top:106px;width:1px;height:21px;background:#46556c"></div>
<div class="a" style="left:689.5px;top:106px;width:1px;height:21px;background:#46556c"></div>
<div class="a" style="left:855.5px;top:106px;width:1px;height:21px;background:#46556c"></div>
<div class="a" style="left:958.5px;top:106px;width:1px;height:21px;background:#46556c"></div>
<div class="a" style="left:1096.5px;top:106px;width:1px;height:21px;background:#46556c"></div>
<div class="a" style="left:1232.5px;top:106px;width:1px;height:21px;background:#46556c"></div>
<div class="a" style="left:1340.5px;top:106px;width:1px;height:21px;background:#46556c"></div>
<div class="t " style="left:278.0px;top:112.9px;font-size:10.75px;line-height:10.75px;color:#ffffff;font-weight:700;-webkit-text-stroke:0;">No.</div>
<div class="t " style="left:352.0px;top:112.9px;font-size:10.75px;line-height:10.75px;color:#ffffff;font-weight:700;-webkit-text-stroke:0;">Name</div>
<div class="t " style="left:520.5px;top:112.9px;font-size:10.75px;line-height:10.75px;color:#ffffff;font-weight:700;-webkit-text-stroke:0;">Source</div>
<div class="t " style="left:693.5px;top:112.9px;font-size:10.75px;line-height:10.75px;color:#ffffff;font-weight:700;-webkit-text-stroke:0;">Destination</div>
<div class="t " style="left:859.5px;top:112.9px;font-size:10.75px;line-height:10.75px;color:#ffffff;font-weight:700;-webkit-text-stroke:0;">VPN</div>
<div class="t " style="left:962.5px;top:112.9px;font-size:10.75px;line-height:10.75px;color:#ffffff;font-weight:700;-webkit-text-stroke:0;">Services &amp; Applications</div>
<div class="t " style="left:1100.5px;top:112.9px;font-size:10.75px;line-height:10.75px;color:#ffffff;font-weight:700;-webkit-text-stroke:0;">Action</div>
<div class="t " style="left:1236.5px;top:112.9px;font-size:10.75px;line-height:10.75px;color:#ffffff;font-weight:700;-webkit-text-stroke:0;">Track</div>
<div class="t " style="left:1344.5px;top:112.9px;font-size:10.75px;line-height:10.75px;color:#ffffff;font-weight:700;-webkit-text-stroke:0;">Install On</div>
<div class="a" style="left:274px;top:127px;width:1125px;height:327px;background:#fff"></div>
<div class="a" style="left:274px;top:127px;width:74px;height:58.5px;background:#f0f0f0"></div>
<div class="a" style="left:282px;top:212.5px;width:66px;height:207px;background:#f0f0f0"></div>
<div class="a" style="left:274px;top:212.5px;width:8px;height:207px;background:#f6f6f6"></div>
<div class="a" style="left:281px;top:212.5px;width:1px;height:207px;background:#e2e5e9"></div>
<div class="a" style="left:274px;top:419.5px;width:74px;height:34.5px;background:#eef0f2"></div>
<div class="a" style="left:274px;top:185.5px;width:74px;height:27px;background:#7cc3f4"></div>
<div class="a" style="left:348px;top:185.5px;width:1051px;height:27px;background:#c2e2fb"></div>
<div class="a" style="left:274px;top:160px;width:1125px;height:1px;background:#e3e7eb"></div>
<div class="a" style="left:282px;top:275px;width:1117px;height:1px;background:#e3e7eb"></div>
<div class="a" style="left:282px;top:315px;width:1117px;height:1px;background:#e3e7eb"></div>
<div class="a" style="left:282px;top:385px;width:1117px;height:1px;background:#e3e7eb"></div>
<div class="a" style="left:348px;top:127px;width:1px;height:327px;background:#e3e7eb"></div>
<div class="a" style="left:516px;top:127px;width:1px;height:327px;background:#e3e7eb"></div>
<div class="a" style="left:689px;top:127px;width:1px;height:327px;background:#e3e7eb"></div>
<div class="a" style="left:855px;top:127px;width:1px;height:327px;background:#e3e7eb"></div>
<div class="a" style="left:958px;top:127px;width:1px;height:327px;background:#e3e7eb"></div>
<div class="a" style="left:1096px;top:127px;width:1px;height:327px;background:#e3e7eb"></div>
<div class="a" style="left:1232px;top:127px;width:1px;height:327px;background:#e3e7eb"></div>
<div class="a" style="left:1340px;top:127px;width:1px;height:327px;background:#e3e7eb"></div>
<div class="a" style="left:274px;top:127px;width:1px;height:58.5px;background:#e3e7eb"></div>
<div class="a" style="left:1398px;top:127px;width:1px;height:327px;background:#e3e7eb"></div>
<div class="a" style="left:274px;top:453px;width:1125px;height:1px;background:#e3e7eb"></div>
<div class="a" style="left:274px;top:185px;width:1125px;height:1px;background:#74b8ee"></div>
<div class="a" style="left:274px;top:212px;width:1125px;height:1px;background:#74b8ee"></div>
<div class="a" style="left:348px;top:186px;width:1px;height:26px;background:#8ccaf4"></div>
<div class="a" style="left:516px;top:186px;width:1px;height:26px;background:#8ccaf4"></div>
<div class="a" style="left:689px;top:186px;width:1px;height:26px;background:#8ccaf4"></div>
<div class="a" style="left:855px;top:186px;width:1px;height:26px;background:#8ccaf4"></div>
<div class="a" style="left:958px;top:186px;width:1px;height:26px;background:#8ccaf4"></div>
<div class="a" style="left:1096px;top:186px;width:1px;height:26px;background:#8ccaf4"></div>
<div class="a" style="left:1232px;top:186px;width:1px;height:26px;background:#8ccaf4"></div>
<div class="a" style="left:1340px;top:186px;width:1px;height:26px;background:#8ccaf4"></div>
<div class="a" style="left:281px;top:419px;width:1118px;height:1px;background:#bfc2c6"></div>
<div class="t " style="left:288.9px;top:133.4px;font-size:10.75px;line-height:10.75px;color:#2c2c2c;">1</div>
<div class="t " style="left:352.6px;top:133.4px;font-size:10.75px;line-height:10.75px;color:#2c2c2c;">Block traffic from suspected</div>
<div class="t " style="left:352.6px;top:145.5px;font-size:10.75px;line-height:10.75px;color:#2c2c2c;">devices</div>
<div class="t " style="left:288.9px;top:166.4px;font-size:10.75px;line-height:10.75px;color:#2c2c2c;">2</div>
<div class="t " style="left:352.6px;top:166.4px;font-size:10.75px;line-height:10.75px;color:#2c2c2c;">Block traffic to suspected devices</div>
<svg class="a" style="left:277.7px;top:195px;" width="6.5" height="3.5" viewBox="0 0 6.5 3.5"><path d="M0 0 L6.5 0 L3.25 3.5Z" fill="#111"/></svg>
<div class="t " style="left:288.8px;top:191.9px;font-size:10.75px;line-height:10.75px;color:#2c2c2c;">3</div>
<div class="t " style="left:352.6px;top:191.9px;font-size:10.75px;line-height:10.75px;color:#2c2c2c;">Policy for quarantined devices</div>
<div class="t " style="left:296.5px;top:218.9px;font-size:10.75px;line-height:10.75px;color:#2c2c2c;">3.1</div>
<div class="t " style="left:352.6px;top:218.9px;font-size:10.75px;line-height:10.75px;color:#2c2c2c;">Allow traffic from quarantined</div>
<div class="t " style="left:352.6px;top:231.0px;font-size:10.75px;line-height:10.75px;color:#2c2c2c;">devices to dhcp, ntp, dns</div>
<div class="t " style="left:296.5px;top:281.4px;font-size:10.75px;line-height:10.75px;color:#2c2c2c;">3.2</div>
<div class="t " style="left:352.6px;top:281.4px;font-size:10.75px;line-height:10.75px;color:#2c2c2c;">Allow traffic from quarantined</div>
<div class="t " style="left:352.6px;top:293.5px;font-size:10.75px;line-height:10.75px;color:#2c2c2c;">devices to update services</div>
<div class="t " style="left:296.5px;top:321.4px;font-size:10.75px;line-height:10.75px;color:#2c2c2c;">3.3</div>
<div class="t " style="left:352.6px;top:321.4px;font-size:10.75px;line-height:10.75px;color:#2c2c2c;">Ask the user about traffic from</div>
<div class="t " style="left:352.6px;top:333.5px;font-size:10.75px;line-height:10.75px;color:#2c2c2c;">quarantined devices to internet</div>
<div class="t " style="left:296.5px;top:391.9px;font-size:10.75px;line-height:10.75px;color:#2c2c2c;">3.4</div>
<div class="t " style="left:352.6px;top:391.9px;font-size:10.75px;line-height:10.75px;color:#2c2c2c;">Block all other traffic from</div>
<div class="t " style="left:352.6px;top:404.0px;font-size:10.75px;line-height:10.75px;color:#2c2c2c;">quarantined devices</div>
<div class="t " style="left:288.3px;top:425.9px;font-size:10.75px;line-height:10.75px;color:#2c2c2c;">4</div>
<div class="t " style="left:352.6px;top:425.9px;font-size:10.75px;line-height:10.75px;color:#2c2c2c;">Allow traffic if allowed by</div>
<div class="t " style="left:352.6px;top:438.0px;font-size:10.75px;line-height:10.75px;color:#2c2c2c;">Network layer and by Playblocks</div>
<svg class="a" style="left:526.0px;top:135.10000000000002px;" width="11" height="11" viewBox="0 0 11 11"><rect x="0.5" y="0.5" width="9.5" height="9.5" rx="1.2" fill="none" stroke="#c4c6c9" stroke-width="1"/><path d="M1 0.5 L1 8.5 Q1 9.5 2 9.5 L10 9.5" fill="none" stroke="#444" stroke-width="2"/><rect x="3.6" y="2.9" width="3.7" height="3.6" fill="#444"/></svg>
<div class="t " style="left:545.8px;top:135.2px;font-size:10.75px;line-height:10.75px;color:#2c2c2c;">Blocked Sources</div>
<svg class="a" style="left:526.5px;top:169.8px;" width="8" height="8" viewBox="0 0 8 8"><g stroke="#808284" stroke-width="1.6"><path d="M0.2 4 L7.8 4 M2 0.6 L6 7.4 M6 0.6 L2 7.4"/></g><circle cx="4" cy="4" r="1.3" fill="#7a7c7f"/></svg>
<div class="t " style="left:545.8px;top:168.2px;font-size:10.75px;line-height:10.75px;color:#2c2c2c;">Any</div>
<svg class="a" style="left:526.0px;top:193.60000000000002px;" width="11" height="11" viewBox="0 0 11 11"><rect x="0.5" y="0.5" width="9.5" height="9.5" rx="1.2" fill="none" stroke="#c4c6c9" stroke-width="1"/><path d="M1 0.5 L1 8.5 Q1 9.5 2 9.5 L10 9.5" fill="none" stroke="#444" stroke-width="2"/><rect x="3.6" y="2.9" width="3.7" height="3.6" fill="#444"/></svg>
<div class="t " style="left:545.8px;top:193.7px;font-size:10.75px;line-height:10.75px;color:#2c2c2c;">Quarantined Sources</div>
<svg class="a" style="left:526.5px;top:222.3px;" width="8" height="8" viewBox="0 0 8 8"><g stroke="#808284" stroke-width="1.6"><path d="M0.2 4 L7.8 4 M2 0.6 L6 7.4 M6 0.6 L2 7.4"/></g><circle cx="4" cy="4" r="1.3" fill="#7a7c7f"/></svg>
<div class="t " style="left:545.8px;top:220.7px;font-size:10.75px;line-height:10.75px;color:#2c2c2c;">Any</div>
<svg class="a" style="left:526.5px;top:284.8px;" width="8" height="8" viewBox="0 0 8 8"><g stroke="#808284" stroke-width="1.6"><path d="M0.2 4 L7.8 4 M2 0.6 L6 7.4 M6 0.6 L2 7.4"/></g><circle cx="4" cy="4" r="1.3" fill="#7a7c7f"/></svg>
<div class="t " style="left:545.8px;top:283.2px;font-size:10.75px;line-height:10.75px;color:#2c2c2c;">Any</div>
<svg class="a" style="left:526.5px;top:324.8px;" width="8" height="8" viewBox="0 0 8 8"><g stroke="#808284" stroke-width="1.6"><path d="M0.2 4 L7.8 4 M2 0.6 L6 7.4 M6 0.6 L2 7.4"/></g><circle cx="4" cy="4" r="1.3" fill="#7a7c7f"/></svg>
<div class="t " style="left:545.8px;top:323.2px;font-size:10.75px;line-height:10.75px;color:#2c2c2c;">Any</div>
<svg class="a" style="left:526.5px;top:395.3px;" width="8" height="8" viewBox="0 0 8 8"><g stroke="#808284" stroke-width="1.6"><path d="M0.2 4 L7.8 4 M2 0.6 L6 7.4 M6 0.6 L2 7.4"/></g><circle cx="4" cy="4" r="1.3" fill="#7a7c7f"/></svg>
<div class="t " style="left:545.8px;top:393.7px;font-size:10.75px;line-height:10.75px;color:#2c2c2c;">Any</div>
<svg class="a" style="left:526.5px;top:429.3px;" width="8" height="8" viewBox="0 0 8 8"><g stroke="#808284" stroke-width="1.6"><path d="M0.2 4 L7.8 4 M2 0.6 L6 7.4 M6 0.6 L2 7.4"/></g><circle cx="4" cy="4" r="1.3" fill="#7a7c7f"/></svg>
<div class="t " style="left:545.8px;top:427.7px;font-size:10.75px;line-height:10.75px;color:#2c2c2c;">Any</div>
<svg class="a" style="left:699px;top:136.8px;" width="8" height="8" viewBox="0 0 8 8"><g stroke="#808284" stroke-width="1.6"><path d="M0.2 4 L7.8 4 M2 0.6 L6 7.4 M6 0.6 L2 7.4"/></g><circle cx="4" cy="4" r="1.3" fill="#7a7c7f"/></svg>
<div class="t " style="left:718.3px;top:135.2px;font-size:10.75px;line-height:10.75px;color:#2c2c2c;">Any</div>
<svg class="a" style="left:698.5px;top:168.10000000000002px;" width="11" height="11" viewBox="0 0 11 11"><rect x="0.5" y="0.5" width="9.5" height="9.5" rx="1.2" fill="none" stroke="#c4c6c9" stroke-width="1"/><path d="M1 0.5 L1 8.5 Q1 9.5 2 9.5 L10 9.5" fill="none" stroke="#444" stroke-width="2"/><rect x="3.6" y="2.9" width="3.7" height="3.6" fill="#444"/></svg>
<div class="t " style="left:718.3px;top:168.2px;font-size:10.75px;line-height:10.75px;color:#2c2c2c;">Blocked Destinations</div>
<svg class="a" style="left:699px;top:195.3px;" width="8" height="8" viewBox="0 0 8 8"><g stroke="#808284" stroke-width="1.6"><path d="M0.2 4 L7.8 4 M2 0.6 L6 7.4 M6 0.6 L2 7.4"/></g><circle cx="4" cy="4" r="1.3" fill="#7a7c7f"/></svg>
<div class="t " style="left:718.3px;top:193.7px;font-size:10.75px;line-height:10.75px;color:#2c2c2c;">Any</div>
<svg class="a" style="left:699px;top:222.3px;" width="8" height="8" viewBox="0 0 8 8"><g stroke="#808284" stroke-width="1.6"><path d="M0.2 4 L7.8 4 M2 0.6 L6 7.4 M6 0.6 L2 7.4"/></g><circle cx="4" cy="4" r="1.3" fill="#7a7c7f"/></svg>
<div class="t " style="left:718.3px;top:220.7px;font-size:10.75px;line-height:10.75px;color:#2c2c2c;">Any</div>
<svg class="a" style="left:697px;top:282.8px;" width="16" height="11" viewBox="0 0 16 11"><path d="M3.5 10 A3 3 0 0 1 3.2 4.3 A4.2 4.2 0 0 1 11.2 3.8 A3.1 3.1 0 0 1 12.3 10Z" fill="none" stroke="#7b8189" stroke-width="1.2"/></svg>
<div class="t " style="left:718.3px;top:283.2px;font-size:10.75px;line-height:10.75px;color:#2c2c2c;">Internet</div>
<svg class="a" style="left:697px;top:322.8px;" width="16" height="11" viewBox="0 0 16 11"><path d="M3.5 10 A3 3 0 0 1 3.2 4.3 A4.2 4.2 0 0 1 11.2 3.8 A3.1 3.1 0 0 1 12.3 10Z" fill="none" stroke="#7b8189" stroke-width="1.2"/></svg>
<div class="t " style="left:718.3px;top:323.2px;font-size:10.75px;line-height:10.75px;color:#2c2c2c;">Internet</div>
<svg class="a" style="left:699px;top:395.3px;" width="8" height="8" viewBox="0 0 8 8"><g stroke="#808284" stroke-width="1.6"><path d="M0.2 4 L7.8 4 M2 0.6 L6 7.4 M6 0.6 L2 7.4"/></g><circle cx="4" cy="4" r="1.3" fill="#7a7c7f"/></svg>
<div class="t " style="left:718.3px;top:393.7px;font-size:10.75px;line-height:10.75px;color:#2c2c2c;">Any</div>
<svg class="a" style="left:699px;top:429.3px;" width="8" height="8" viewBox="0 0 8 8"><g stroke="#808284" stroke-width="1.6"><path d="M0.2 4 L7.8 4 M2 0.6 L6 7.4 M6 0.6 L2 7.4"/></g><circle cx="4" cy="4" r="1.3" fill="#7a7c7f"/></svg>
<div class="t " style="left:718.3px;top:427.7px;font-size:10.75px;line-height:10.75px;color:#2c2c2c;">Any</div>
<svg class="a" style="left:865.2px;top:136.8px;" width="8" height="8" viewBox="0 0 8 8"><g stroke="#808284" stroke-width="1.6"><path d="M0.2 4 L7.8 4 M2 0.6 L6 7.4 M6 0.6 L2 7.4"/></g><circle cx="4" cy="4" r="1.3" fill="#7a7c7f"/></svg>
<div class="t " style="left:884.1px;top:135.2px;font-size:10.75px;line-height:10.75px;color:#2c2c2c;">Any</div>
<svg class="a" style="left:865.2px;top:169.8px;" width="8" height="8" viewBox="0 0 8 8"><g stroke="#808284" stroke-width="1.6"><path d="M0.2 4 L7.8 4 M2 0.6 L6 7.4 M6 0.6 L2 7.4"/></g><circle cx="4" cy="4" r="1.3" fill="#7a7c7f"/></svg>
<div class="t " style="left:884.1px;top:168.2px;font-size:10.75px;line-height:10.75px;color:#2c2c2c;">Any</div>
<svg class="a" style="left:865.2px;top:195.3px;" width="8" height="8" viewBox="0 0 8 8"><g stroke="#808284" stroke-width="1.6"><path d="M0.2 4 L7.8 4 M2 0.6 L6 7.4 M6 0.6 L2 7.4"/></g><circle cx="4" cy="4" r="1.3" fill="#7a7c7f"/></svg>
<div class="t " style="left:884.1px;top:193.7px;font-size:10.75px;line-height:10.75px;color:#2c2c2c;">Any</div>
<svg class="a" style="left:865.2px;top:222.3px;" width="8" height="8" viewBox="0 0 8 8"><g stroke="#808284" stroke-width="1.6"><path d="M0.2 4 L7.8 4 M2 0.6 L6 7.4 M6 0.6 L2 7.4"/></g><circle cx="4" cy="4" r="1.3" fill="#7a7c7f"/></svg>
<div class="t " style="left:884.1px;top:220.7px;font-size:10.75px;line-height:10.75px;color:#2c2c2c;">Any</div>
<svg class="a" style="left:865.2px;top:284.8px;" width="8" height="8" viewBox="0 0 8 8"><g stroke="#808284" stroke-width="1.6"><path d="M0.2 4 L7.8 4 M2 0.6 L6 7.4 M6 0.6 L2 7.4"/></g><circle cx="4" cy="4" r="1.3" fill="#7a7c7f"/></svg>
<div class="t " style="left:884.1px;top:283.2px;font-size:10.75px;line-height:10.75px;color:#2c2c2c;">Any</div>
<svg class="a" style="left:865.2px;top:324.8px;" width="8" height="8" viewBox="0 0 8 8"><g stroke="#808284" stroke-width="1.6"><path d="M0.2 4 L7.8 4 M2 0.6 L6 7.4 M6 0.6 L2 7.4"/></g><circle cx="4" cy="4" r="1.3" fill="#7a7c7f"/></svg>
<div class="t " style="left:884.1px;top:323.2px;font-size:10.75px;line-height:10.75px;color:#2c2c2c;">Any</div>
<svg class="a" style="left:865.2px;top:395.3px;" width="8" height="8" viewBox="0 0 8 8"><g stroke="#808284" stroke-width="1.6"><path d="M0.2 4 L7.8 4 M2 0.6 L6 7.4 M6 0.6 L2 7.4"/></g><circle cx="4" cy="4" r="1.3" fill="#7a7c7f"/></svg>
<div class="t " style="left:884.1px;top:393.7px;font-size:10.75px;line-height:10.75px;color:#2c2c2c;">Any</div>
<svg class="a" style="left:865.2px;top:429.3px;" width="8" height="8" viewBox="0 0 8 8"><g stroke="#808284" stroke-width="1.6"><path d="M0.2 4 L7.8 4 M2 0.6 L6 7.4 M6 0.6 L2 7.4"/></g><circle cx="4" cy="4" r="1.3" fill="#7a7c7f"/></svg>
<div class="t " style="left:884.1px;top:427.7px;font-size:10.75px;line-height:10.75px;color:#2c2c2c;">Any</div>
<svg class="a" style="left:968.3px;top:136.8px;" width="8" height="8" viewBox="0 0 8 8"><g stroke="#808284" stroke-width="1.6"><path d="M0.2 4 L7.8 4 M2 0.6 L6 7.4 M6 0.6 L2 7.4"/></g><circle cx="4" cy="4" r="1.3" fill="#7a7c7f"/></svg>
<div class="t " style="left:987.1px;top:135.2px;font-size:10.75px;line-height:10.75px;color:#2c2c2c;">Any</div>
<svg class="a" style="left:968.3px;top:169.8px;" width="8" height="8" viewBox="0 0 8 8"><g stroke="#808284" stroke-width="1.6"><path d="M0.2 4 L7.8 4 M2 0.6 L6 7.4 M6 0.6 L2 7.4"/></g><circle cx="4" cy="4" r="1.3" fill="#7a7c7f"/></svg>
<div class="t " style="left:987.1px;top:168.2px;font-size:10.75px;line-height:10.75px;color:#2c2c2c;">Any</div>
<svg class="a" style="left:968.3px;top:195.3px;" width="8" height="8" viewBox="0 0 8 8"><g stroke="#808284" stroke-width="1.6"><path d="M0.2 4 L7.8 4 M2 0.6 L6 7.4 M6 0.6 L2 7.4"/></g><circle cx="4" cy="4" r="1.3" fill="#7a7c7f"/></svg>
<div class="t " style="left:987.1px;top:193.7px;font-size:10.75px;line-height:10.75px;color:#2c2c2c;">Any</div>
<svg class="a" style="left:967.3px;top:322.8px;" width="11" height="11" viewBox="0 0 11 11"><path d="M0.6 3.4 L0.6 0.6 L3.4 0.6 M7.6 0.6 L10.4 0.6 L10.4 3.4 M10.4 7.6 L10.4 10.4 L7.6 10.4 M3.4 10.4 L0.6 10.4 L0.6 7.6" stroke="#45474a" stroke-width="1.1" fill="none"/><path d="M3.6 5.5 L7.4 5.5 M5.5 3.6 L5.5 7.4" stroke="#b9babc" stroke-width="1"/><circle cx="3.6" cy="3.6" r="1.2" fill="#45474a"/><circle cx="7.4" cy="3.6" r="1.2" fill="#45474a"/><circle cx="3.6" cy="7.4" r="1.2" fill="#45474a"/><circle cx="7.4" cy="7.4" r="1.2" fill="#45474a"/></svg>
<div class="t " style="left:987.1px;top:323.2px;font-size:10.75px;line-height:10.75px;color:#2c2c2c;">Web</div>
<svg class="a" style="left:968.3px;top:395.3px;" width="8" height="8" viewBox="0 0 8 8"><g stroke="#808284" stroke-width="1.6"><path d="M0.2 4 L7.8 4 M2 0.6 L6 7.4 M6 0.6 L2 7.4"/></g><circle cx="4" cy="4" r="1.3" fill="#7a7c7f"/></svg>
<div class="t " style="left:987.1px;top:393.7px;font-size:10.75px;line-height:10.75px;color:#2c2c2c;">Any</div>
<svg class="a" style="left:968.3px;top:429.3px;" width="8" height="8" viewBox="0 0 8 8"><g stroke="#808284" stroke-width="1.6"><path d="M0.2 4 L7.8 4 M2 0.6 L6 7.4 M6 0.6 L2 7.4"/></g><circle cx="4" cy="4" r="1.3" fill="#7a7c7f"/></svg>
<div class="t " style="left:987.1px;top:427.7px;font-size:10.75px;line-height:10.75px;color:#2c2c2c;">Any</div>
<svg class="a" style="left:967.3px;top:220.3px;" width="11" height="11" viewBox="0 0 11 11"><path d="M0.6 3.4 L0.6 0.6 L3.4 0.6 M7.6 0.6 L10.4 0.6 L10.4 3.4 M10.4 7.6 L10.4 10.4 L7.6 10.4 M3.4 10.4 L0.6 10.4 L0.6 7.6" stroke="#45474a" stroke-width="1.1" fill="none"/><path d="M3.6 5.5 L7.4 5.5 M5.5 3.6 L5.5 7.4" stroke="#b9babc" stroke-width="1"/><circle cx="3.6" cy="3.6" r="1.2" fill="#45474a"/><circle cx="7.4" cy="3.6" r="1.2" fill="#45474a"/><circle cx="3.6" cy="7.4" r="1.2" fill="#45474a"/><circle cx="7.4" cy="7.4" r="1.2" fill="#45474a"/></svg>
<div class="t " style="left:987.6px;top:220.7px;font-size:10.75px;line-height:10.75px;color:#2c2c2c;">dns</div>
<svg class="a" style="left:967.3px;top:238.9px;" width="11" height="11" viewBox="0 0 11 11"><path d="M0.6 3.4 L0.6 0.6 L3.4 0.6 M7.6 0.6 L10.4 0.6 L10.4 3.4 M10.4 7.6 L10.4 10.4 L7.6 10.4 M3.4 10.4 L0.6 10.4 L0.6 7.6" stroke="#45474a" stroke-width="1.1" fill="none"/><path d="M3.6 5.5 L7.4 5.5 M5.5 3.6 L5.5 7.4" stroke="#b9babc" stroke-width="1"/><circle cx="3.6" cy="3.6" r="1.2" fill="#45474a"/><circle cx="7.4" cy="3.6" r="1.2" fill="#45474a"/><circle cx="3.6" cy="7.4" r="1.2" fill="#45474a"/><circle cx="7.4" cy="7.4" r="1.2" fill="#45474a"/></svg>
<div class="t " style="left:987.6px;top:239.3px;font-size:10.75px;line-height:10.75px;color:#2c2c2c;">ntp</div>
<svg class="a" style="left:965px;top:255.7px;" width="15" height="15" viewBox="0 0 15 15"><path d="M1.5 8.1 A6 6 0 0 1 13.5 8.1Z" fill="#4a4b4d"/><path d="M5.6 3.2 L7.6 2.7 L9.6 7.6 L8.3 8.2Z" fill="#fff" opacity="0.9"/><text x="0.3" y="14.3" textLength="14.6" lengthAdjust="spacingAndGlyphs" font-family="Liberation Sans" font-weight="700" font-size="6.4" fill="#4a4b4d">DHCP</text></svg>
<div class="t " style="left:987.6px;top:257.9px;font-size:10.75px;line-height:10.75px;color:#2c2c2c;">dhcp</div>
<svg class="a" style="left:965.2px;top:280.8px;" width="14" height="14" viewBox="0 0 14 14"><path d="M1 4.5 L4.5 1 L8 1.5 L13 6.5 L7 12.5 L2 7.5Z" fill="#3f444c"/><circle cx="4.5" cy="4.2" r="1.1" fill="#fff"/><path d="M6 7 L9 10 M7.5 5.5 L10.5 8.5" stroke="#fff" stroke-width="0.6"/><path d="M2.5 1.5 L0.8 0" stroke="#3f444c" stroke-width="1"/></svg>
<div class="t " style="left:987.6px;top:282.7px;font-size:10.75px;line-height:10.75px;color:#2c2c2c;">Software Update</div>
<svg class="a" style="left:1100.2px;top:131.6px;" width="14" height="14" viewBox="0 0 14 14"><circle cx="6.5" cy="6.5" r="6.5" fill="#ef4b4b"/><circle cx="6.5" cy="6.5" r="4.7" fill="#f7b7b7"/><circle cx="6.5" cy="6.5" r="3.1" fill="#ef4b4b"/></svg>
<div class="t " style="left:1122.4px;top:133.5px;font-size:10.75px;line-height:10.75px;color:#2c2c2c;">Drop</div>
<svg class="a" style="left:1100.2px;top:164.6px;" width="14" height="14" viewBox="0 0 14 14"><circle cx="6.5" cy="6.5" r="6.5" fill="#ef4b4b"/><circle cx="6.5" cy="6.5" r="4.7" fill="#f7b7b7"/><circle cx="6.5" cy="6.5" r="3.1" fill="#ef4b4b"/></svg>
<div class="t " style="left:1122.4px;top:166.5px;font-size:10.75px;line-height:10.75px;color:#2c2c2c;">Drop</div>
<svg class="a" style="left:1100px;top:189.1px;" width="16" height="15" viewBox="0 0 16 15"><path d="M6.5 0 L13 3.2 L6.5 6.4 L0 3.2Z" fill="#3b4350"/><path d="M0 5.5 L6.5 8.7 L13 5.5 L13 7 L6.5 10.2 L0 7Z" fill="#3b4350"/><path d="M0 9 L6.5 12.2 L9 11 L9 12.5 L6.5 13.7 L0 10.5Z" fill="#3b4350"/><path d="M15 9.5 L11 11.8 L15 14" stroke="#3b4350" stroke-width="1.3" fill="none"/><circle cx="11" cy="11.8" r="1.3" fill="#3b4350"/></svg>
<div class="t " style="left:1122.4px;top:192.0px;font-size:10.75px;line-height:10.75px;color:#2c2c2c;">Quarantine Policy</div>
<svg class="a" style="left:1100.2px;top:216.29999999999998px;" width="14" height="14" viewBox="0 0 14 14"><circle cx="6.7" cy="6.7" r="6.7" fill="#5cb517"/><path d="M2.2 6.5 L11.8 6.5 L11.8 7.6 L2.2 7.6Z M3 7.5 L5.1 7.5 L4.8 10.7 L3.4 10.7Z M8.9 7.5 L11 7.5 L10.6 10.7 L9.2 10.7Z" fill="#fff"/><path d="M4 5.8 L6 5.8 L5.8 2 L4.6 2Z M8 5.8 L10 5.8 L9.4 2 L8.2 2Z" fill="#fff" opacity="0.7"/></svg>
<div class="t " style="left:1122.4px;top:219.0px;font-size:10.75px;line-height:10.75px;color:#2c2c2c;">Accept</div>
<svg class="a" style="left:1100.2px;top:278.8px;" width="14" height="14" viewBox="0 0 14 14"><circle cx="6.7" cy="6.7" r="6.7" fill="#5cb517"/><path d="M2.2 6.5 L11.8 6.5 L11.8 7.6 L2.2 7.6Z M3 7.5 L5.1 7.5 L4.8 10.7 L3.4 10.7Z M8.9 7.5 L11 7.5 L10.6 10.7 L9.2 10.7Z" fill="#fff"/><path d="M4 5.8 L6 5.8 L5.8 2 L4.6 2Z M8 5.8 L10 5.8 L9.4 2 L8.2 2Z" fill="#fff" opacity="0.7"/></svg>
<div class="t " style="left:1122.4px;top:281.5px;font-size:10.75px;line-height:10.75px;color:#2c2c2c;">Accept</div>
<svg class="a" style="left:1100.3px;top:320.6px;" width="14" height="11" viewBox="0 0 14 11"><path d="M7 0.3 C10.8 0.3 13.6 2.2 13.6 4.6 C13.6 7 10.8 8.9 7 8.9 C6.3 8.9 5.7 8.8 5.1 8.7 L1.5 10.8 L2.6 7.7 C1.2 6.9 0.4 5.8 0.4 4.6 C0.4 2.2 3.2 0.3 7 0.3Z" fill="#2a3f5c"/><circle cx="4.3" cy="4.6" r="1" fill="#fff"/><circle cx="7" cy="4.6" r="1" fill="#fff"/><circle cx="9.7" cy="4.6" r="1" fill="#fff"/></svg>
<div class="t " style="left:1122.4px;top:321.5px;font-size:10.75px;line-height:10.75px;color:#2c2c2c;">Ask</div>
<svg class="a" style="left:1100.2px;top:390.1px;" width="14" height="14" viewBox="0 0 14 14"><circle cx="6.5" cy="6.5" r="6.5" fill="#ef4b4b"/><circle cx="6.5" cy="6.5" r="4.7" fill="#f7b7b7"/><circle cx="6.5" cy="6.5" r="3.1" fill="#ef4b4b"/></svg>
<div class="t " style="left:1122.4px;top:392.0px;font-size:10.75px;line-height:10.75px;color:#2c2c2c;">Drop</div>
<svg class="a" style="left:1100.2px;top:423.3px;" width="14" height="14" viewBox="0 0 14 14"><circle cx="6.7" cy="6.7" r="6.7" fill="#5cb517"/><path d="M2.2 6.5 L11.8 6.5 L11.8 7.6 L2.2 7.6Z M3 7.5 L5.1 7.5 L4.8 10.7 L3.4 10.7Z M8.9 7.5 L11 7.5 L10.6 10.7 L9.2 10.7Z" fill="#fff"/><path d="M4 5.8 L6 5.8 L5.8 2 L4.6 2Z M8 5.8 L10 5.8 L9.4 2 L8.2 2Z" fill="#fff" opacity="0.7"/></svg>
<div class="t " style="left:1122.4px;top:426.0px;font-size:10.75px;line-height:10.75px;color:#2c2c2c;">Accept</div>
<svg class="a" style="left:1120.3px;top:339.6px;" width="12" height="12" viewBox="0 0 12 12"><ellipse cx="5.6" cy="5.6" rx="6.6" ry="2.6" transform="rotate(45 5.6 5.6)" fill="none" stroke="#2d3d54" stroke-width="1.3"/><circle cx="7" cy="4.3" r="1.1" fill="#2d3d54"/><circle cx="4.1" cy="7.2" r="1.1" fill="#2d3d54"/><circle cx="10.7" cy="0.9" r="1.3" fill="#2d3d54"/><circle cx="1.4" cy="10.2" r="1.4" fill="#2d3d54"/></svg>
<div class="t " style="left:1141.0px;top:341.9px;font-size:10.3px;line-height:10.3px;color:#2c2c2c;">Playblocks Policy</div>
<svg class="a" style="left:1120.5px;top:356.8px;" width="11" height="11" viewBox="0 0 11 11"><circle cx="5.5" cy="5.5" r="4.8" fill="none" stroke="#5a6270" stroke-width="1"/><path d="M3.5 4.5 L5.5 6.5 L7.5 4.5" stroke="#5a6270" stroke-width="1" fill="none"/></svg>
<div class="t " style="left:1141.0px;top:357.9px;font-size:10.3px;line-height:10.3px;color:#2c2c2c;">Once a day</div>
<svg class="a" style="left:1120.3px;top:371.6px;" width="12" height="12" viewBox="0 0 12 12"><ellipse cx="5.6" cy="5.6" rx="6.6" ry="2.6" transform="rotate(45 5.6 5.6)" fill="none" stroke="#2d3d54" stroke-width="1.3"/><circle cx="7" cy="4.3" r="1.1" fill="#2d3d54"/><circle cx="4.1" cy="7.2" r="1.1" fill="#2d3d54"/><circle cx="10.7" cy="0.9" r="1.3" fill="#2d3d54"/><circle cx="1.4" cy="10.2" r="1.4" fill="#2d3d54"/></svg>
<div class="t " style="left:1141.0px;top:373.9px;font-size:10.3px;line-height:10.3px;color:#2c2c2c;">Per applicatio...</div>
<svg class="a" style="left:1238px;top:130.9px;" width="11" height="14" viewBox="0 0 11 14"><rect x="0.7" y="1.3" width="9.4" height="11.9" rx="1.2" fill="none" stroke="#3e4c60" stroke-width="1.2"/><rect x="0.5" y="1" width="9.8" height="2" rx="0.6" fill="#2f3f56"/><rect x="3.3" y="0" width="4.2" height="1.5" rx="0.5" fill="#2f3f56"/><path d="M2.6 6.4 L8.2 6.4 M2.6 7.9 L8.2 7.9 M2.6 9.3 L8.2 9.3 M2.6 10.6 L8.2 10.6" stroke="#7d8898" stroke-width="0.9"/></svg>
<div class="t " style="left:1258.4px;top:133.5px;font-size:10.75px;line-height:10.75px;color:#2c2c2c;">Log</div>
<svg class="a" style="left:1238px;top:163.9px;" width="11" height="14" viewBox="0 0 11 14"><rect x="0.7" y="1.3" width="9.4" height="11.9" rx="1.2" fill="none" stroke="#3e4c60" stroke-width="1.2"/><rect x="0.5" y="1" width="9.8" height="2" rx="0.6" fill="#2f3f56"/><rect x="3.3" y="0" width="4.2" height="1.5" rx="0.5" fill="#2f3f56"/><path d="M2.6 6.4 L8.2 6.4 M2.6 7.9 L8.2 7.9 M2.6 9.3 L8.2 9.3 M2.6 10.6 L8.2 10.6" stroke="#7d8898" stroke-width="0.9"/></svg>
<div class="t " style="left:1258.4px;top:166.5px;font-size:10.75px;line-height:10.75px;color:#2c2c2c;">Log</div>
<div class="a" style="left:1238px;top:196.79999999999998px;width:10px;height:3px;background:#2d3d54"></div>
<div class="t " style="left:1258.4px;top:192.0px;font-size:10.75px;line-height:10.75px;color:#2c2c2c;">N/A</div>
<svg class="a" style="left:1238px;top:216.4px;" width="11" height="14" viewBox="0 0 11 14"><rect x="0.7" y="1.3" width="9.4" height="11.9" rx="1.2" fill="none" stroke="#3e4c60" stroke-width="1.2"/><rect x="0.5" y="1" width="9.8" height="2" rx="0.6" fill="#2f3f56"/><rect x="3.3" y="0" width="4.2" height="1.5" rx="0.5" fill="#2f3f56"/><path d="M2.6 6.4 L8.2 6.4 M2.6 7.9 L8.2 7.9 M2.6 9.3 L8.2 9.3 M2.6 10.6 L8.2 10.6" stroke="#7d8898" stroke-width="0.9"/></svg>
<div class="t " style="left:1258.4px;top:219.0px;font-size:10.75px;line-height:10.75px;color:#2c2c2c;">Log</div>
<svg class="a" style="left:1238px;top:278.90000000000003px;" width="11" height="14" viewBox="0 0 11 14"><rect x="0.7" y="1.3" width="9.4" height="11.9" rx="1.2" fill="none" stroke="#3e4c60" stroke-width="1.2"/><rect x="0.5" y="1" width="9.8" height="2" rx="0.6" fill="#2f3f56"/><rect x="3.3" y="0" width="4.2" height="1.5" rx="0.5" fill="#2f3f56"/><path d="M2.6 6.4 L8.2 6.4 M2.6 7.9 L8.2 7.9 M2.6 9.3 L8.2 9.3 M2.6 10.6 L8.2 10.6" stroke="#7d8898" stroke-width="0.9"/></svg>
<div class="t " style="left:1258.4px;top:281.5px;font-size:10.75px;line-height:10.75px;color:#2c2c2c;">Log</div>
<svg class="a" style="left:1238px;top:318.90000000000003px;" width="11" height="14" viewBox="0 0 11 14"><rect x="0.7" y="1.3" width="9.4" height="11.9" rx="1.2" fill="none" stroke="#3e4c60" stroke-width="1.2"/><rect x="0.5" y="1" width="9.8" height="2" rx="0.6" fill="#2f3f56"/><rect x="3.3" y="0" width="4.2" height="1.5" rx="0.5" fill="#2f3f56"/><path d="M2.6 6.4 L8.2 6.4 M2.6 7.9 L8.2 7.9 M2.6 9.3 L8.2 9.3 M2.6 10.6 L8.2 10.6" stroke="#7d8898" stroke-width="0.9"/></svg>
<div class="t " style="left:1258.4px;top:321.5px;font-size:10.75px;line-height:10.75px;color:#2c2c2c;">Log</div>
<svg class="a" style="left:1238px;top:389.40000000000003px;" width="11" height="14" viewBox="0 0 11 14"><rect x="0.7" y="1.3" width="9.4" height="11.9" rx="1.2" fill="none" stroke="#3e4c60" stroke-width="1.2"/><rect x="0.5" y="1" width="9.8" height="2" rx="0.6" fill="#2f3f56"/><rect x="3.3" y="0" width="4.2" height="1.5" rx="0.5" fill="#2f3f56"/><path d="M2.6 6.4 L8.2 6.4 M2.6 7.9 L8.2 7.9 M2.6 9.3 L8.2 9.3 M2.6 10.6 L8.2 10.6" stroke="#7d8898" stroke-width="0.9"/></svg>
<div class="t " style="left:1258.4px;top:392.0px;font-size:10.75px;line-height:10.75px;color:#2c2c2c;">Log</div>
<div class="a" style="left:1238px;top:430.3px;width:10px;height:3px;background:#7b7f85"></div>
<div class="t " style="left:1258.4px;top:426.0px;font-size:10.75px;line-height:10.75px;color:#2c2c2c;">None</div>
<svg class="a" style="left:1257px;top:300.6px;" width="10" height="11" viewBox="0 0 10 11"><rect x="0.5" y="0.5" width="9" height="10" fill="none" stroke="#2c5fa3" stroke-width="1"/><rect x="2" y="2" width="6" height="2" fill="#2c5fa3"/><path d="M2 5.8 L8 5.8 M2 7.8 L8 7.8 M2 9.5 L8 9.5 M3.8 5 L3.8 10 M6.2 5 L6.2 10" stroke="#2c5fa3" stroke-width="0.9"/></svg>
<div class="t " style="left:1275.3px;top:300.5px;font-size:10.75px;line-height:10.75px;color:#2c2c2c;">Accounting</div>
<div class="a" style="left:1341px;top:127px;width:57px;height:327px;overflow:hidden">
<svg class="a" style="left:8.5px;top:7.4px" width="11" height="11" viewBox="0 0 11 11"><path d="M0.6 3.4 L0.6 0.6 L3.4 0.6 M7.6 0.6 L10.4 0.6 L10.4 3.4 M10.4 7.6 L10.4 10.4 L7.6 10.4 M3.4 10.4 L0.6 10.4 L0.6 7.6" stroke="#45474a" stroke-width="1.1" fill="none"/><path d="M3.6 5.5 L7.4 5.5 M5.5 3.6 L5.5 7.4" stroke="#b9babc" stroke-width="1"/><circle cx="3.6" cy="3.6" r="1.2" fill="#45474a"/><circle cx="7.4" cy="3.6" r="1.2" fill="#45474a"/><circle cx="3.6" cy="7.4" r="1.2" fill="#45474a"/><circle cx="7.4" cy="7.4" r="1.2" fill="#45474a"/></svg>
<div class="t" style="left:28.7px;top:8.3px;font-size:10.75px;line-height:10.75px;color:#2c2c2c;">Playbl.</div>
<svg class="a" style="left:8.5px;top:40.4px" width="11" height="11" viewBox="0 0 11 11"><path d="M0.6 3.4 L0.6 0.6 L3.4 0.6 M7.6 0.6 L10.4 0.6 L10.4 3.4 M10.4 7.6 L10.4 10.4 L7.6 10.4 M3.4 10.4 L0.6 10.4 L0.6 7.6" stroke="#45474a" stroke-width="1.1" fill="none"/><path d="M3.6 5.5 L7.4 5.5 M5.5 3.6 L5.5 7.4" stroke="#b9babc" stroke-width="1"/><circle cx="3.6" cy="3.6" r="1.2" fill="#45474a"/><circle cx="7.4" cy="3.6" r="1.2" fill="#45474a"/><circle cx="3.6" cy="7.4" r="1.2" fill="#45474a"/><circle cx="7.4" cy="7.4" r="1.2" fill="#45474a"/></svg>
<div class="t" style="left:28.7px;top:41.3px;font-size:10.75px;line-height:10.75px;color:#2c2c2c;">Playbl.</div>
<svg class="a" style="left:8.5px;top:65.9px" width="11" height="11" viewBox="0 0 11 11"><path d="M0.6 3.4 L0.6 0.6 L3.4 0.6 M7.6 0.6 L10.4 0.6 L10.4 3.4 M10.4 7.6 L10.4 10.4 L7.6 10.4 M3.4 10.4 L0.6 10.4 L0.6 7.6" stroke="#45474a" stroke-width="1.1" fill="none"/><path d="M3.6 5.5 L7.4 5.5 M5.5 3.6 L5.5 7.4" stroke="#b9babc" stroke-width="1"/><circle cx="3.6" cy="3.6" r="1.2" fill="#45474a"/><circle cx="7.4" cy="3.6" r="1.2" fill="#45474a"/><circle cx="3.6" cy="7.4" r="1.2" fill="#45474a"/><circle cx="7.4" cy="7.4" r="1.2" fill="#45474a"/></svg>
<div class="t" style="left:28.7px;top:66.8px;font-size:10.75px;line-height:10.75px;color:#2c2c2c;">Playbl.</div>
<svg class="a" style="left:8.5px;top:92.9px" width="11" height="11" viewBox="0 0 11 11"><path d="M0.6 3.4 L0.6 0.6 L3.4 0.6 M7.6 0.6 L10.4 0.6 L10.4 3.4 M10.4 7.6 L10.4 10.4 L7.6 10.4 M3.4 10.4 L0.6 10.4 L0.6 7.6" stroke="#45474a" stroke-width="1.1" fill="none"/><path d="M3.6 5.5 L7.4 5.5 M5.5 3.6 L5.5 7.4" stroke="#b9babc" stroke-width="1"/><circle cx="3.6" cy="3.6" r="1.2" fill="#45474a"/><circle cx="7.4" cy="3.6" r="1.2" fill="#45474a"/><circle cx="3.6" cy="7.4" r="1.2" fill="#45474a"/><circle cx="7.4" cy="7.4" r="1.2" fill="#45474a"/></svg>
<div class="t" style="left:28.7px;top:93.8px;font-size:10.75px;line-height:10.75px;color:#2c2c2c;">Playbl.</div>
<svg class="a" style="left:8.5px;top:155.4px" width="11" height="11" viewBox="0 0 11 11"><path d="M0.6 3.4 L0.6 0.6 L3.4 0.6 M7.6 0.6 L10.4 0.6 L10.4 3.4 M10.4 7.6 L10.4 10.4 L7.6 10.4 M3.4 10.4 L0.6 10.4 L0.6 7.6" stroke="#45474a" stroke-width="1.1" fill="none"/><path d="M3.6 5.5 L7.4 5.5 M5.5 3.6 L5.5 7.4" stroke="#b9babc" stroke-width="1"/><circle cx="3.6" cy="3.6" r="1.2" fill="#45474a"/><circle cx="7.4" cy="3.6" r="1.2" fill="#45474a"/><circle cx="3.6" cy="7.4" r="1.2" fill="#45474a"/><circle cx="7.4" cy="7.4" r="1.2" fill="#45474a"/></svg>
<div class="t" style="left:28.7px;top:156.3px;font-size:10.75px;line-height:10.75px;color:#2c2c2c;">Playbl.</div>
<svg class="a" style="left:8.5px;top:195.4px" width="11" height="11" viewBox="0 0 11 11"><path d="M0.6 3.4 L0.6 0.6 L3.4 0.6 M7.6 0.6 L10.4 0.6 L10.4 3.4 M10.4 7.6 L10.4 10.4 L7.6 10.4 M3.4 10.4 L0.6 10.4 L0.6 7.6" stroke="#45474a" stroke-width="1.1" fill="none"/><path d="M3.6 5.5 L7.4 5.5 M5.5 3.6 L5.5 7.4" stroke="#b9babc" stroke-width="1"/><circle cx="3.6" cy="3.6" r="1.2" fill="#45474a"/><circle cx="7.4" cy="3.6" r="1.2" fill="#45474a"/><circle cx="3.6" cy="7.4" r="1.2" fill="#45474a"/><circle cx="7.4" cy="7.4" r="1.2" fill="#45474a"/></svg>
<div class="t" style="left:28.7px;top:196.3px;font-size:10.75px;line-height:10.75px;color:#2c2c2c;">Playbl.</div>
<svg class="a" style="left:9.5px;top:268.4px" width="8" height="8" viewBox="0 0 8 8"><g stroke="#808284" stroke-width="1.6"><path d="M0.2 4 L7.8 4 M2 0.6 L6 7.4 M6 0.6 L2 7.4"/></g><circle cx="4" cy="4" r="1.3" fill="#7a7c7f"/></svg>
<div class="t" style="left:28.7px;top:266.8px;font-size:10.75px;line-height:10.75px;color:#2c2c2c;letter-spacing:-0.45px;">Policy.</div>
<svg class="a" style="left:9.5px;top:302.4px" width="8" height="8" viewBox="0 0 8 8"><g stroke="#808284" stroke-width="1.6"><path d="M0.2 4 L7.8 4 M2 0.6 L6 7.4 M6 0.6 L2 7.4"/></g><circle cx="4" cy="4" r="1.3" fill="#7a7c7f"/></svg>
<div class="t" style="left:28.7px;top:300.8px;font-size:10.75px;line-height:10.75px;color:#2c2c2c;letter-spacing:-0.45px;">Policy.</div>
</div>
<div class="a" style="left:274px;top:546px;width:1125px;height:17px;background:#dde2e8"></div>
<div class="a" style="left:287px;top:546px;width:1086px;height:17px;background:#b3b6b9"></div>
<div class="a" style="left:274px;top:573px;width:1125px;height:251px;background:#fff;border:1px solid #e3e6ea"></div>
<div class="a" style="left:275px;top:574px;width:1123px;height:28px;background:#f4f4f4"></div>
<div class="a" style="left:275px;top:602px;width:1123px;height:1px;background:#e3e6ea"></div>
<div class="a" style="left:283.5px;top:578px;width:68.5px;height:25px;background:#fff;border:1px solid #e3e6ea;border-bottom:none"></div>
<div class="t " style="left:294.1px;top:586.6px;font-size:10px;line-height:10px;color:#333;font-weight:700;-webkit-text-stroke:0;">Summary</div>
<div class="t " style="left:363.7px;top:585.3px;font-size:10.5px;line-height:10.5px;color:#444;">Details</div>
<div class="a" style="left:417px;top:581.5px;width:1px;height:15px;background:#e3e6ea"></div>
<div class="t " style="left:429.3px;top:585.3px;font-size:10.5px;line-height:10.5px;color:#444;">Logs</div>
<div class="a" style="left:483px;top:581.5px;width:1px;height:15px;background:#e3e6ea"></div>
<div class="t " style="left:495.0px;top:585.3px;font-size:10.5px;line-height:10.5px;color:#444;">History</div>
<div class="a" style="left:548px;top:581.5px;width:1px;height:15px;background:#e3e6ea"></div>
<svg class="a" style="left:1390px;top:577px;" width="6" height="7" viewBox="0 0 6 7"><path d="M0 0 L6 0 M0 1.5 L6 1.5 L3 4Z M0 4 L6 4 L3 7Z" fill="#2d3d54" stroke="#2d3d54" stroke-width="0.6"/></svg>
<svg class="a" style="left:1378.5px;top:613.5px;" width="12" height="12" viewBox="0 0 12 12"><path d="M2 10 L9 3" stroke="#2d3d54" stroke-width="3"/><path d="M9.5 1 L11 2.5" stroke="#2d3d54" stroke-width="2"/><path d="M0.5 11.5 L1.2 9.2 L2.8 10.8Z" fill="#2d3d54"/></svg>
<svg class="a" style="left:304.5px;top:637.5px;" width="24" height="22" viewBox="0 0 24 22"><path d="M9 0 L18 4.3 L9 8.6 L0 4.3Z" fill="#2d3d54"/><path d="M0 7.3 L9 11.6 L18 7.3 L18 9.3 L9 13.6 L0 9.3Z" fill="#2d3d54"/><path d="M0 12 L9 16.3 L12.5 14.6 L12.5 16.6 L9 18.3 L0 14Z" fill="#2d3d54"/><path d="M22.5 13.5 L16.5 17 L22.5 20.5" stroke="#2d3d54" stroke-width="1.8" fill="none"/><circle cx="16.5" cy="17" r="1.8" fill="#2d3d54"/></svg>
<div class="t " style="left:334.6px;top:645.3px;font-size:10.1px;line-height:10.1px;color:#2f3a4a;font-weight:700;-webkit-text-stroke:0;">Quarantine Policy</div>
<div class="a" style="left:430.5px;top:637.5px;width:1px;height:22px;background:#e3e6ea"></div>
<div class="t " style="left:440.4px;top:645.0px;font-size:10.4px;line-height:10.4px;color:#444;">Rule&nbsp;&nbsp;3</div>
<div class="t " style="left:305.0px;top:676.0px;font-size:17.2px;line-height:17.2px;color:#36445a;-webkit-text-stroke:0.45px #36445a;">Policy for quarantined devices</div>
<div class="t " style="left:305.0px;top:714.1px;font-size:10.3px;line-height:10.3px;color:#444;">Comments:</div>
<div class="a" style="left:367px;top:712px;width:261px;height:38px;background:#fff;border:1px solid #d9dcdf"></div>
<div class="a" style="left:642px;top:631px;width:1px;height:115px;background-image:linear-gradient(180deg,#b9bec5 50%,transparent 50%);background-size:1px 3px"></div>
<svg class="a" style="left:657.5px;top:631px;" width="20" height="20" viewBox="0 0 20 20"><path d="M10 0.5 C12.5 1 14 3 14 5.5 C14 8.5 12.3 11 10 11 C7.7 11 6 8.5 6 5.5 C6 3 7.5 1 10 0.5Z" fill="#2d3d54"/><path d="M0.5 19.5 L0.5 17.5 C0.5 14.5 4 13 7.5 12.2 L10 14 L12.5 12.2 C16 13 19.5 14.5 19.5 17.5 L19.5 19.5Z" fill="#2d3d54"/><path d="M9.3 0 L10.7 0 L10.5 1.5 L9.5 1.5Z" fill="#2d3d54"/></svg>
<svg class="a" style="left:657.5px;top:662px;" width="21" height="20" viewBox="0 0 21 20"><rect x="0.8" y="2.5" width="19.4" height="16.7" fill="none" stroke="#2d3d54" stroke-width="1.6"/><rect x="0.8" y="2.5" width="19.4" height="3.2" fill="#2d3d54"/><rect x="3.0" y="7.5" width="2.4" height="2.3" fill="#2d3d54"/><rect x="6.6" y="7.5" width="2.4" height="2.3" fill="#2d3d54"/><rect x="10.2" y="7.5" width="2.4" height="2.3" fill="#2d3d54"/><rect x="13.8" y="7.5" width="2.4" height="2.3" fill="#2d3d54"/><rect x="17.4" y="7.5" width="2.4" height="2.3" fill="#2d3d54"/><rect x="3.0" y="11.0" width="2.4" height="2.3" fill="#2d3d54"/><rect x="6.6" y="11.0" width="2.4" height="2.3" fill="#2d3d54"/><rect x="10.2" y="11.0" width="2.4" height="2.3" fill="#2d3d54"/><rect x="13.8" y="11.0" width="2.4" height="2.3" fill="#2d3d54"/><rect x="17.4" y="11.0" width="2.4" height="2.3" fill="#2d3d54"/><rect x="3.0" y="14.5" width="2.4" height="2.3" fill="#2d3d54"/><rect x="6.6" y="14.5" width="2.4" height="2.3" fill="#2d3d54"/><rect x="10.2" y="14.5" width="2.4" height="2.3" fill="#2d3d54"/><rect x="13.8" y="14.5" width="2.4" height="2.3" fill="#2d3d54"/><rect x="17.4" y="14.5" width="2.4" height="2.3" fill="#2d3d54"/><rect x="2.5" y="0" width="1.2" height="3" fill="#2d3d54"/><rect x="5.7" y="0" width="1.2" height="3" fill="#2d3d54"/><rect x="8.9" y="0" width="1.2" height="3" fill="#2d3d54"/><rect x="12.100000000000001" y="0" width="1.2" height="3" fill="#2d3d54"/><rect x="15.3" y="0" width="1.2" height="3" fill="#2d3d54"/><rect x="18.5" y="0" width="1.2" height="3" fill="#2d3d54"/></svg>
<svg class="a" style="left:657.2px;top:691px;" width="21" height="21" viewBox="0 0 21 21"><circle cx="10.5" cy="10.5" r="9.5" fill="none" stroke="#2d3d54" stroke-width="1.7"/><path d="M10 4.5 L10 11 L14 15" stroke="#2d3d54" stroke-width="1.7" fill="none"/></svg>
<svg class="a" style="left:657.5px;top:721.5px;" width="20.5" height="20.5" viewBox="0 0 20.5 20.5"><circle cx="10.25" cy="10.25" r="8.5" fill="none" stroke="#2d3d54" stroke-width="3.2"/><circle cx="10.25" cy="10.25" r="3.2" fill="#2d3d54"/></svg>
<div class="t " style="left:687.5px;top:637.7px;font-size:10.4px;line-height:10.4px;color:#444;">Created by:</div>
<div class="t " style="left:687.5px;top:668.0px;font-size:10.4px;line-height:10.4px;color:#444;">Date created:</div>
<div class="t " style="left:687.5px;top:698.2px;font-size:10.4px;line-height:10.4px;color:#444;">Expiration time:</div>
<div class="t " style="left:687.5px;top:728.2px;font-size:10.4px;line-height:10.4px;color:#444;">Hit Count:</div>
<div class="t " style="left:773.6px;top:637.7px;font-size:10.15px;line-height:10.15px;color:#333;font-weight:700;-webkit-text-stroke:0;">Playblocks (Infinity)</div>
<div class="t " style="left:773.6px;top:668.2px;font-size:10.15px;line-height:10.15px;color:#333;font-weight:700;-webkit-text-stroke:0;">12/01/2026 10.38</div>
<div class="t " style="left:773.6px;top:698.4px;font-size:10.15px;line-height:10.15px;color:#333;font-weight:700;-webkit-text-stroke:0;">Never</div>
<div class="a" style="left:773px;top:728px;width:38px;height:7px;background:#e2e2e2"></div>
<div class="t " style="left:814.3px;top:728.4px;font-size:10.15px;line-height:10.15px;color:#333;font-weight:700;-webkit-text-stroke:0;">0 (0%, Zero)</div>
<div class="a" style="left:1023px;top:631px;width:1px;height:116px;background-image:linear-gradient(180deg,#b9bec5 50%,transparent 50%);background-size:1px 3px"></div>
<svg class="a" style="left:1040px;top:636px;" width="17" height="21" viewBox="0 0 17 21"><rect x="1.4" y="2.9" width="13.8" height="17.2" rx="0.8" fill="none" stroke="#2d3d54" stroke-width="1.5"/><rect x="1" y="2.4" width="14.6" height="2" fill="#2d3d54"/><rect x="3.2" y="0.2" width="1" height="3" fill="#2d3d54"/><rect x="5.7" y="0.2" width="1" height="3" fill="#2d3d54"/><rect x="8.2" y="0.2" width="1" height="3" fill="#2d3d54"/><rect x="10.7" y="0.2" width="1" height="3" fill="#2d3d54"/><rect x="13.2" y="0.2" width="1" height="3" fill="#2d3d54"/><path d="M5.2 8.3 L11.8 14.9" stroke="#2d3d54" stroke-width="3" stroke-linecap="round"/><path d="M4.3 15.8 L9 15.8" stroke="#6c7a8e" stroke-width="1.2"/></svg>
<div class="t " style="left:1064.7px;top:642.0px;font-size:11.2px;line-height:11.2px;color:#444;">Additional Rule Info:</div>
<div class="a" style="left:1179px;top:637px;width:199px;height:20px;background:#fff;border:1px solid #d9dcdf"></div>
<svg class="a" style="left:1040px;top:670px;" width="17" height="21" viewBox="0 0 17 21"><rect x="1.4" y="2.9" width="13.8" height="17.2" rx="0.8" fill="none" stroke="#2d3d54" stroke-width="1.5"/><rect x="1" y="2.4" width="14.6" height="2" fill="#2d3d54"/><rect x="3.2" y="0.2" width="1" height="3" fill="#2d3d54"/><rect x="5.7" y="0.2" width="1" height="3" fill="#2d3d54"/><rect x="8.2" y="0.2" width="1" height="3" fill="#2d3d54"/><rect x="10.7" y="0.2" width="1" height="3" fill="#2d3d54"/><rect x="13.2" y="0.2" width="1" height="3" fill="#2d3d54"/><path d="M5.2 8.3 L11.8 14.9" stroke="#2d3d54" stroke-width="3" stroke-linecap="round"/><path d="M4.3 15.8 L9 15.8" stroke="#6c7a8e" stroke-width="1.2"/></svg>
<div class="t " style="left:1064.7px;top:675.8px;font-size:11.2px;line-height:11.2px;color:#444;">Ticket Number:</div>
<div class="a" style="left:1179px;top:671px;width:199px;height:20px;background:#fff;border:1px solid #d9dcdf"></div>
<svg class="a" style="left:1040px;top:704px;" width="17" height="21" viewBox="0 0 17 21"><rect x="1.4" y="2.9" width="13.8" height="17.2" rx="0.8" fill="none" stroke="#2d3d54" stroke-width="1.5"/><rect x="1" y="2.4" width="14.6" height="2" fill="#2d3d54"/><rect x="3.2" y="0.2" width="1" height="3" fill="#2d3d54"/><rect x="5.7" y="0.2" width="1" height="3" fill="#2d3d54"/><rect x="8.2" y="0.2" width="1" height="3" fill="#2d3d54"/><rect x="10.7" y="0.2" width="1" height="3" fill="#2d3d54"/><rect x="13.2" y="0.2" width="1" height="3" fill="#2d3d54"/><path d="M5.2 8.3 L11.8 14.9" stroke="#2d3d54" stroke-width="3" stroke-linecap="round"/><path d="M4.3 15.8 L9 15.8" stroke="#6c7a8e" stroke-width="1.2"/></svg>
<div class="t " style="left:1064.7px;top:709.6px;font-size:11.2px;line-height:11.2px;color:#444;">Ticket Requester:</div>
<div class="a" style="left:1179px;top:705px;width:199px;height:20px;background:#fff;border:1px solid #d9dcdf"></div>
</body></html>
